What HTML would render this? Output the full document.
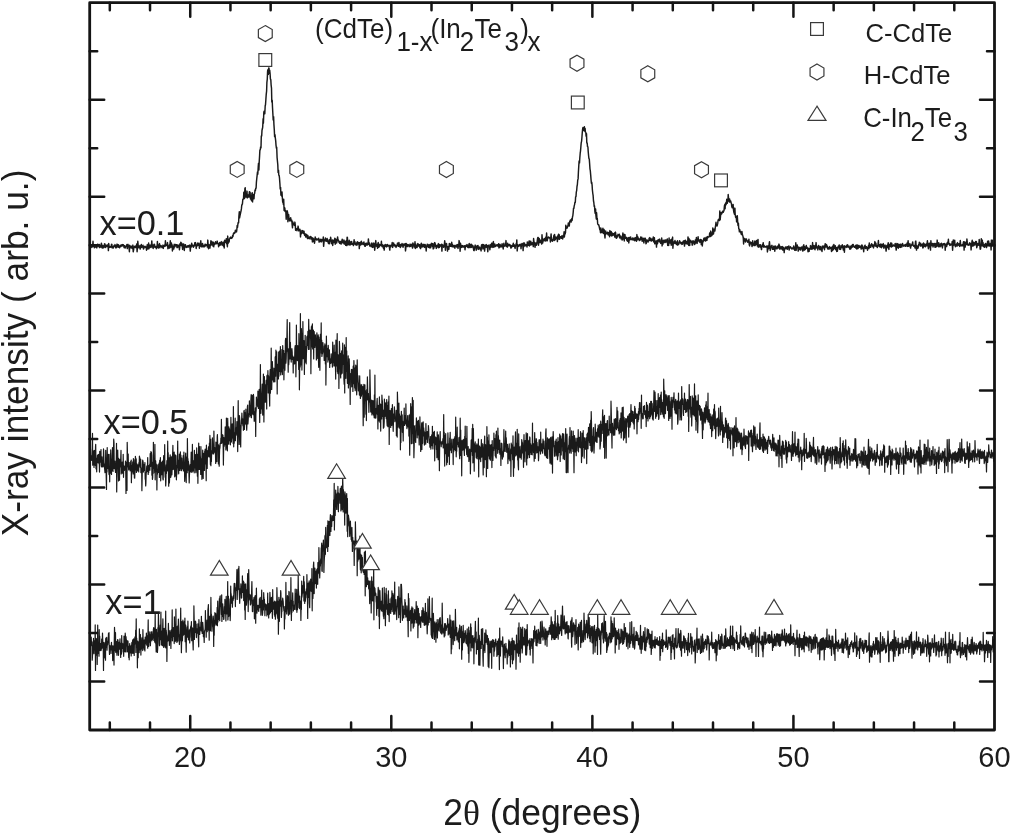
<!DOCTYPE html>
<html><head><meta charset="utf-8"><style>
html,body{margin:0;padding:0;background:#fff;width:1013px;height:835px;overflow:hidden}
body{position:relative;font-family:"Liberation Sans",sans-serif}
svg{will-change:transform}
</style></head><body>
<svg width="1013" height="835" viewBox="0 0 1013 835" style="position:absolute;left:0;top:0">
<rect width="100%" height="100%" fill="#fff"/>
<path d="M90.2,246.9 90.5,245.2 90.9,245.9 91.2,246.9 91.6,245.4 91.9,247.4 92.3,245.3 92.6,246.3 93.0,241.3 93.3,246.0 93.7,246.4 94.0,246.3 94.4,247.7 94.7,246.8 95.1,245.5 95.4,246.4 95.8,246.0 96.1,247.2 96.5,246.0 96.8,247.9 97.2,246.1 97.5,244.2 97.9,246.0 98.2,244.4 98.6,246.0 98.9,246.8 99.3,244.4 99.6,247.6 100.0,245.3 100.3,245.7 100.7,247.1 101.0,246.4 101.4,243.2 101.7,244.8 102.1,247.9 102.4,248.1 102.8,245.4 103.1,245.7 103.5,247.8 103.8,245.7 104.2,247.2 104.5,243.8 104.9,244.0 105.2,245.1 105.6,247.5 105.9,246.2 106.3,245.2 106.6,245.6 107.0,246.5 107.3,246.3 107.7,245.4 108.0,244.4 108.4,250.6 108.7,243.5 109.1,246.2 109.4,247.4 109.8,247.0 110.1,246.5 110.5,246.9 110.8,247.2 111.2,246.8 111.5,244.3 111.9,244.5 112.2,247.9 112.6,246.7 112.9,246.8 113.3,248.0 113.6,247.3 114.0,245.6 114.3,246.2 114.7,246.2 115.0,244.6 115.4,246.1 115.7,247.8 116.1,245.4 116.4,247.8 116.8,247.0 117.1,244.1 117.5,245.1 117.8,245.1 118.2,247.2 118.5,244.8 118.9,246.2 119.2,246.5 119.6,247.8 119.9,246.7 120.3,245.6 120.6,245.2 121.0,246.6 121.3,244.9 121.7,245.1 122.0,245.8 122.4,244.6 122.7,245.9 123.1,245.5 123.4,244.7 123.8,245.7 124.1,247.6 124.5,245.7 124.8,246.0 125.2,248.1 125.5,246.8 125.9,246.6 126.2,246.3 126.6,245.2 126.9,244.6 127.3,248.6 127.6,245.1 128.0,244.3 128.3,246.0 128.7,246.6 129.0,247.5 129.4,251.8 129.7,245.3 130.1,245.9 130.4,246.7 130.8,247.8 131.1,247.6 131.5,246.2 131.8,247.5 132.2,248.5 132.5,246.6 132.9,245.1 133.2,251.7 133.6,250.1 133.9,247.0 134.3,247.2 134.6,246.5 135.0,246.2 135.3,247.6 135.7,247.6 136.0,245.8 136.4,247.0 136.7,244.0 137.1,251.7 137.4,247.6 137.8,241.2 138.1,244.5 138.5,247.6 138.8,247.7 139.2,246.5 139.5,247.0 139.9,245.6 140.2,249.1 140.6,246.7 140.9,247.2 141.3,244.4 141.6,247.4 142.0,247.0 142.3,247.1 142.7,246.0 143.0,245.2 143.4,249.0 143.7,248.9 144.1,247.6 144.4,246.4 144.8,246.5 145.1,246.3 145.5,247.2 145.8,247.5 146.2,246.9 146.5,250.2 146.9,248.3 147.2,244.7 147.6,246.7 147.9,249.0 148.3,246.4 148.6,243.0 149.0,248.7 149.3,247.1 149.7,245.8 150.0,245.0 150.4,246.6 150.7,247.4 151.1,247.4 151.4,246.3 151.8,240.9 152.1,245.6 152.5,244.8 152.8,247.5 153.2,248.5 153.5,246.2 153.9,244.7 154.2,244.2 154.6,244.7 154.9,247.3 155.3,246.7 155.6,247.3 156.0,246.5 156.3,248.7 156.7,246.5 157.0,247.5 157.4,241.5 157.7,246.6 158.1,247.8 158.4,248.1 158.8,244.7 159.1,245.6 159.5,243.6 159.8,247.8 160.2,245.2 160.5,246.7 160.9,246.1 161.2,245.8 161.6,246.2 161.9,247.6 162.3,247.1 162.6,247.4 163.0,245.1 163.3,248.4 163.7,245.9 164.0,245.7 164.4,245.3 164.7,246.3 165.1,246.2 165.4,240.8 165.8,245.5 166.1,244.7 166.5,245.4 166.8,245.6 167.2,244.9 167.5,242.6 167.9,248.7 168.2,246.0 168.6,247.1 168.9,247.9 169.3,244.9 169.6,248.1 170.0,244.6 170.3,240.7 170.7,246.5 171.0,247.2 171.4,242.9 171.7,244.9 172.1,244.8 172.4,251.0 172.8,248.1 173.1,246.3 173.5,246.0 173.8,249.0 174.2,244.3 174.5,244.9 174.9,246.9 175.2,245.9 175.6,244.5 175.9,244.6 176.3,245.6 176.6,244.8 177.0,247.6 177.3,245.0 177.7,247.5 178.0,245.4 178.4,246.1 178.7,245.3 179.1,245.0 179.4,249.8 179.8,246.9 180.1,243.6 180.5,243.9 180.8,242.3 181.2,245.5 181.5,242.9 181.9,245.8 182.2,245.5 182.6,249.4 182.9,244.1 183.3,244.7 183.6,243.9 184.0,246.0 184.3,250.5 184.7,245.1 185.0,245.3 185.4,244.7 185.7,246.9 186.1,247.4 186.4,246.9 186.8,246.2 187.1,247.3 187.5,246.3 187.8,245.9 188.2,245.6 188.5,247.0 188.9,245.7 189.2,246.4 189.6,245.1 189.9,246.8 190.3,251.1 190.6,246.3 191.0,245.0 191.3,247.0 191.7,243.2 192.0,245.6 192.4,246.0 192.7,245.3 193.1,245.4 193.4,247.3 193.8,246.2 194.1,245.1 194.5,245.8 194.8,242.8 195.2,244.5 195.5,242.6 195.9,245.4 196.2,248.5 196.6,245.3 196.9,245.4 197.3,245.7 197.6,243.1 198.0,245.2 198.3,244.2 198.7,244.4 199.0,243.1 199.4,248.2 199.7,245.2 200.1,246.3 200.4,246.3 200.8,240.8 201.1,244.7 201.5,245.2 201.8,246.9 202.2,246.3 202.5,243.4 202.9,244.7 203.2,246.9 203.6,246.1 203.9,245.8 204.3,246.3 204.6,246.7 205.0,244.3 205.3,246.0 205.7,244.4 206.0,244.8 206.4,245.2 206.7,245.6 207.1,244.6 207.4,247.1 207.8,240.1 208.1,244.4 208.5,248.8 208.8,245.5 209.2,244.8 209.5,246.5 209.9,248.1 210.2,245.4 210.6,243.8 210.9,240.8 211.3,245.0 211.6,243.2 212.0,241.6 212.3,244.7 212.7,243.9 213.0,246.1 213.4,242.2 213.7,246.8 214.1,243.2 214.4,244.3 214.8,244.5 215.1,243.8 215.5,241.8 215.8,243.2 216.2,243.6 216.5,243.7 216.9,242.7 217.2,241.1 217.6,243.5 217.9,243.4 218.3,243.7 218.6,246.7 219.0,244.0 219.3,243.3 219.7,242.5 220.0,245.4 220.4,244.3 220.7,242.5 221.1,244.1 221.4,241.6 221.8,243.1 222.1,245.2 222.5,243.5 222.8,243.6 223.2,242.1 223.5,246.2 223.9,243.7 224.2,248.0 224.6,240.2 224.9,240.8 225.3,242.6 225.6,241.1 226.0,240.4 226.3,238.7 226.7,243.8 227.0,243.5 227.4,246.7 227.7,236.1 228.1,243.5 228.4,239.3 228.8,239.9 229.1,242.0 229.5,238.8 229.8,238.4 230.2,237.6 230.5,238.2 230.9,237.1 231.2,238.3 231.6,238.4 231.9,238.0 232.3,237.5 232.6,235.5 233.0,236.5 233.3,234.0 233.7,233.1 234.0,233.7 234.4,232.5 234.7,233.2 235.1,232.5 235.4,230.2 235.8,231.7 236.1,230.4 236.5,231.9 236.8,230.0 237.2,225.4 237.5,227.3 237.9,224.2 238.2,222.5 238.6,222.8 238.9,216.3 239.3,211.8 239.6,217.9 240.0,215.6 240.3,214.4 240.7,212.3 241.0,211.1 241.4,208.9 241.7,205.8 242.1,204.3 242.4,204.3 242.8,199.4 243.1,199.1 243.5,199.0 243.8,192.3 244.2,197.8 244.5,198.5 244.9,188.5 245.2,187.7 245.6,197.0 245.9,195.1 246.3,194.3 246.6,197.0 247.0,191.1 247.3,197.9 247.7,196.1 248.0,195.2 248.4,197.1 248.7,196.4 249.1,194.5 249.4,191.7 249.8,197.1 250.1,192.3 250.5,199.0 250.8,195.6 251.2,198.6 251.5,200.7 251.9,193.3 252.2,192.7 252.6,201.9 252.9,196.6 253.3,194.8 253.6,194.4 254.0,198.7 254.3,194.1 254.7,193.3 255.0,190.1 255.4,190.7 255.7,188.3 256.1,188.3 256.4,182.2 256.8,178.2 257.1,175.6 257.5,171.9 257.8,174.3 258.2,167.4 258.5,163.3 258.9,170.0 259.2,162.1 259.6,155.6 259.9,149.9 260.3,149.8 260.6,146.9 261.0,147.8 261.3,136.0 261.7,135.9 262.0,130.3 262.4,128.8 262.7,127.1 263.1,118.8 263.4,123.1 263.8,112.6 264.1,111.2 264.5,112.2 264.8,113.7 265.2,105.8 265.5,104.7 265.9,99.1 266.2,94.7 266.6,91.1 266.9,82.3 267.3,78.8 267.6,71.0 268.0,69.6 268.3,74.4 268.7,67.9 269.0,68.1 269.4,73.2 269.7,70.1 270.1,73.8 270.4,79.0 270.8,79.6 271.1,84.8 271.5,88.1 271.8,101.9 272.2,100.3 272.5,107.3 272.9,114.4 273.2,120.0 273.6,116.6 273.9,124.1 274.3,129.9 274.6,136.6 275.0,134.6 275.3,137.7 275.7,140.8 276.0,145.1 276.4,148.2 276.7,147.2 277.1,157.6 277.4,160.8 277.8,164.8 278.1,172.5 278.5,170.1 278.8,175.2 279.2,175.6 279.5,178.2 279.9,183.5 280.2,188.9 280.6,187.4 280.9,195.1 281.3,192.8 281.6,196.0 282.0,191.9 282.3,197.3 282.7,202.2 283.0,201.3 283.4,204.5 283.7,199.3 284.1,210.5 284.4,210.2 284.8,207.9 285.1,211.5 285.5,211.4 285.8,210.9 286.2,219.2 286.5,212.5 286.9,214.4 287.2,210.8 287.6,212.5 287.9,221.7 288.3,218.4 288.6,214.4 289.0,218.2 289.3,218.4 289.7,220.9 290.0,219.1 290.4,220.0 290.7,217.8 291.1,220.9 291.4,220.1 291.8,220.2 292.1,224.3 292.5,227.8 292.8,221.9 293.2,223.8 293.5,224.8 293.9,223.6 294.2,224.7 294.6,225.4 294.9,222.1 295.3,225.1 295.6,230.3 296.0,229.9 296.3,230.0 296.7,228.8 297.0,230.7 297.4,228.2 297.7,228.6 298.1,226.1 298.4,228.0 298.8,230.9 299.1,230.1 299.5,229.8 299.8,229.2 300.2,230.3 300.5,236.9 300.9,232.3 301.2,234.1 301.6,233.0 301.9,230.6 302.3,232.3 302.6,230.6 303.0,233.1 303.3,233.3 303.7,233.3 304.0,231.1 304.4,234.8 304.7,235.4 305.1,234.1 305.4,233.9 305.8,237.1 306.1,234.2 306.5,236.9 306.8,234.7 307.2,236.4 307.5,238.6 307.9,235.5 308.2,237.7 308.6,238.2 308.9,237.6 309.3,238.8 309.6,237.3 310.0,236.7 310.3,236.6 310.7,236.5 311.0,239.1 311.4,237.3 311.7,238.6 312.1,237.7 312.4,241.9 312.8,240.5 313.1,238.3 313.5,241.5 313.8,239.0 314.2,239.5 314.5,243.2 314.9,240.7 315.2,236.9 315.6,239.3 315.9,238.4 316.3,239.3 316.6,240.0 317.0,239.5 317.3,239.8 317.7,239.8 318.0,238.8 318.4,239.3 318.7,238.2 319.1,242.1 319.4,240.2 319.8,241.6 320.1,239.8 320.5,241.5 320.8,239.2 321.2,239.5 321.5,241.8 321.9,239.7 322.2,240.8 322.6,240.1 322.9,240.3 323.3,237.0 323.6,246.3 324.0,242.5 324.3,239.9 324.7,240.6 325.0,240.6 325.4,237.9 325.7,240.9 326.1,239.9 326.4,241.3 326.8,239.4 327.1,238.5 327.5,240.3 327.8,241.8 328.2,242.1 328.5,243.5 328.9,241.4 329.2,239.7 329.6,243.7 329.9,240.9 330.3,241.1 330.6,237.2 331.0,239.2 331.3,240.3 331.7,243.7 332.0,243.1 332.4,240.0 332.7,245.5 333.1,241.7 333.4,240.3 333.8,241.7 334.1,242.4 334.5,241.9 334.8,238.3 335.2,244.2 335.5,241.3 335.9,239.1 336.2,242.1 336.6,243.0 336.9,241.6 337.3,240.4 337.6,236.9 338.0,240.6 338.3,239.9 338.7,240.7 339.0,242.5 339.4,242.0 339.7,243.4 340.1,241.4 340.4,243.4 340.8,243.1 341.1,244.1 341.5,240.9 341.8,242.7 342.2,239.2 342.5,242.0 342.9,242.1 343.2,243.1 343.6,242.9 343.9,239.9 344.3,244.1 344.6,240.9 345.0,243.1 345.3,241.8 345.7,245.3 346.0,243.8 346.4,240.6 346.7,245.6 347.1,237.3 347.4,237.4 347.8,244.7 348.1,244.4 348.5,244.0 348.8,244.7 349.2,240.2 349.5,243.2 349.9,245.1 350.2,241.6 350.6,242.6 350.9,244.5 351.3,243.3 351.6,241.5 352.0,243.1 352.3,244.2 352.7,243.7 353.0,243.5 353.4,245.6 353.7,243.1 354.1,239.8 354.4,243.7 354.8,241.4 355.1,244.3 355.5,244.8 355.8,244.1 356.2,243.1 356.5,244.0 356.9,245.3 357.2,242.1 357.6,241.7 357.9,244.0 358.3,242.6 358.6,243.1 359.0,242.8 359.3,248.6 359.7,242.7 360.0,244.2 360.4,242.2 360.7,245.0 361.1,244.6 361.4,241.3 361.8,243.9 362.1,243.2 362.5,244.1 362.8,242.9 363.2,244.5 363.5,243.1 363.9,241.9 364.2,244.0 364.6,245.3 364.9,246.3 365.3,246.2 365.6,243.4 366.0,245.1 366.3,243.2 366.7,245.0 367.0,243.3 367.4,244.4 367.7,244.9 368.1,243.4 368.4,238.9 368.8,244.3 369.1,243.0 369.5,243.0 369.8,246.1 370.2,245.4 370.5,245.5 370.9,245.2 371.2,246.7 371.6,243.2 371.9,242.9 372.3,244.2 372.6,247.4 373.0,245.3 373.3,247.0 373.7,243.1 374.0,243.4 374.4,245.1 374.7,250.3 375.1,246.2 375.4,243.9 375.8,240.6 376.1,246.1 376.5,245.3 376.8,246.2 377.2,244.2 377.5,248.3 377.9,246.8 378.2,242.5 378.6,244.2 378.9,247.2 379.3,246.5 379.6,244.5 380.0,245.3 380.3,245.6 380.7,244.5 381.0,245.5 381.4,241.2 381.7,245.0 382.1,246.5 382.4,244.8 382.8,246.9 383.1,247.0 383.5,248.3 383.8,245.2 384.2,250.1 384.5,247.3 384.9,245.8 385.2,244.4 385.6,246.3 385.9,245.7 386.3,244.9 386.6,246.9 387.0,246.2 387.3,244.5 387.7,246.1 388.0,246.1 388.4,245.8 388.7,245.2 389.1,245.9 389.4,247.3 389.8,250.1 390.1,245.2 390.5,247.0 390.8,246.7 391.2,245.5 391.5,245.2 391.9,244.9 392.2,242.5 392.6,247.4 392.9,246.6 393.3,244.2 393.6,243.0 394.0,244.6 394.3,245.1 394.7,245.9 395.0,244.8 395.4,246.6 395.7,246.1 396.1,247.4 396.4,245.6 396.8,245.9 397.1,245.3 397.5,243.1 397.8,244.1 398.2,246.1 398.5,246.3 398.9,242.4 399.2,245.3 399.6,244.3 399.9,246.6 400.3,247.5 400.6,244.4 401.0,246.5 401.3,245.0 401.7,245.3 402.0,243.5 402.4,244.2 402.7,246.1 403.1,247.2 403.4,245.1 403.8,244.1 404.1,244.3 404.5,245.3 404.8,244.7 405.2,243.6 405.5,250.9 405.9,247.5 406.2,243.4 406.6,246.3 406.9,246.1 407.3,246.6 407.6,244.5 408.0,244.5 408.3,245.3 408.7,245.1 409.0,246.5 409.4,246.7 409.7,245.4 410.1,244.1 410.4,246.4 410.8,244.7 411.1,245.8 411.5,246.0 411.8,244.3 412.2,246.5 412.5,248.1 412.9,242.9 413.2,244.3 413.6,244.8 413.9,244.5 414.3,247.1 414.6,247.1 415.0,241.8 415.3,248.5 415.7,243.9 416.0,245.5 416.4,247.5 416.7,245.8 417.1,247.5 417.4,245.6 417.8,243.6 418.1,245.2 418.5,244.2 418.8,246.2 419.2,246.1 419.5,244.7 419.9,247.7 420.2,245.6 420.6,248.6 420.9,244.8 421.3,243.3 421.6,245.9 422.0,247.1 422.3,246.7 422.7,245.8 423.0,244.2 423.4,246.4 423.7,244.8 424.1,244.5 424.4,247.4 424.8,247.2 425.1,244.4 425.5,245.8 425.8,246.1 426.2,251.0 426.5,246.2 426.9,246.3 427.2,244.3 427.6,245.1 427.9,244.4 428.3,247.3 428.6,247.1 429.0,244.9 429.3,247.8 429.7,247.7 430.0,244.5 430.4,246.4 430.7,247.7 431.1,244.7 431.4,243.3 431.8,243.9 432.1,245.5 432.5,246.6 432.8,243.6 433.2,248.9 433.5,244.2 433.9,248.1 434.2,245.1 434.6,242.6 434.9,242.8 435.3,244.2 435.6,246.6 436.0,245.3 436.3,248.4 436.7,245.8 437.0,245.7 437.4,246.3 437.7,244.9 438.1,247.5 438.4,243.6 438.8,247.7 439.1,244.7 439.5,247.3 439.8,244.5 440.2,246.3 440.5,245.9 440.9,244.9 441.2,245.4 441.6,244.2 441.9,251.1 442.3,244.6 442.6,245.1 443.0,246.4 443.3,245.9 443.7,247.2 444.0,244.9 444.4,244.3 444.7,240.8 445.1,243.8 445.4,250.2 445.8,245.1 446.1,243.8 446.5,243.5 446.8,245.9 447.2,247.7 447.5,251.1 447.9,246.4 448.2,248.4 448.6,248.1 448.9,249.2 449.3,243.5 449.6,245.0 450.0,245.1 450.3,246.3 450.7,243.9 451.0,245.4 451.4,246.5 451.7,242.3 452.1,244.7 452.4,244.6 452.8,246.9 453.1,245.8 453.5,245.5 453.8,245.5 454.2,247.3 454.5,245.4 454.9,248.2 455.2,246.2 455.6,246.2 455.9,245.4 456.3,245.0 456.6,247.0 457.0,245.0 457.3,245.7 457.7,244.6 458.0,248.4 458.4,245.9 458.7,246.5 459.1,240.6 459.4,242.6 459.8,245.0 460.1,251.3 460.5,243.2 460.8,247.2 461.2,245.1 461.5,247.1 461.9,247.4 462.2,245.7 462.6,245.6 462.9,246.1 463.3,247.0 463.6,246.5 464.0,246.0 464.3,246.9 464.7,245.7 465.0,249.8 465.4,246.2 465.7,246.5 466.1,245.2 466.4,246.2 466.8,246.6 467.1,244.6 467.5,245.9 467.8,247.4 468.2,245.2 468.5,247.3 468.9,247.7 469.2,243.5 469.6,246.3 469.9,244.3 470.3,247.5 470.6,244.8 471.0,246.6 471.3,244.3 471.7,247.4 472.0,246.4 472.4,245.2 472.7,247.1 473.1,246.0 473.4,248.7 473.8,250.5 474.1,250.7 474.5,248.4 474.8,246.6 475.2,245.1 475.5,245.6 475.9,246.1 476.2,250.2 476.6,248.8 476.9,247.6 477.3,245.7 477.6,247.5 478.0,245.5 478.3,249.4 478.7,247.8 479.0,247.3 479.4,247.2 479.7,247.1 480.1,249.5 480.4,248.1 480.8,248.5 481.1,250.9 481.5,245.0 481.8,246.8 482.2,244.5 482.5,244.5 482.9,249.0 483.2,247.8 483.6,244.6 483.9,246.7 484.3,245.3 484.6,251.1 485.0,247.3 485.3,247.3 485.7,244.9 486.0,246.6 486.4,244.6 486.7,247.3 487.1,245.4 487.4,247.7 487.8,251.7 488.1,247.1 488.5,245.3 488.8,246.4 489.2,246.9 489.5,246.3 489.9,249.8 490.2,244.6 490.6,247.5 490.9,247.0 491.3,246.2 491.6,243.2 492.0,243.9 492.3,247.4 492.7,246.0 493.0,243.0 493.4,241.6 493.7,247.3 494.1,246.7 494.4,246.7 494.8,243.9 495.1,245.5 495.5,246.6 495.8,245.5 496.2,245.3 496.5,245.7 496.9,244.6 497.2,244.6 497.6,245.9 497.9,245.1 498.3,246.4 498.6,243.8 499.0,247.9 499.3,247.2 499.7,245.0 500.0,244.3 500.4,246.9 500.7,245.3 501.1,245.8 501.4,245.5 501.8,246.9 502.1,243.8 502.5,245.8 502.8,245.3 503.2,249.0 503.5,245.6 503.9,243.2 504.2,246.1 504.6,245.5 504.9,246.3 505.3,245.4 505.6,244.9 506.0,240.6 506.3,245.2 506.7,246.4 507.0,244.8 507.4,247.1 507.7,243.3 508.1,246.0 508.4,245.2 508.8,245.4 509.1,244.5 509.5,245.8 509.8,244.5 510.2,245.9 510.5,245.3 510.9,248.1 511.2,246.1 511.6,247.5 511.9,245.5 512.3,245.9 512.6,246.3 513.0,245.1 513.3,243.3 513.7,246.3 514.0,244.7 514.4,245.1 514.7,246.9 515.1,248.4 515.4,245.7 515.8,245.8 516.1,243.7 516.5,245.0 516.8,239.9 517.2,250.9 517.5,247.8 517.9,244.8 518.2,245.4 518.6,246.3 518.9,245.4 519.3,245.9 519.6,244.5 520.0,245.4 520.3,245.4 520.7,244.2 521.0,248.7 521.4,245.1 521.7,244.1 522.1,243.5 522.4,245.5 522.8,244.4 523.1,250.6 523.5,243.0 523.8,246.7 524.2,243.4 524.5,243.0 524.9,245.8 525.2,245.8 525.6,245.7 525.9,244.8 526.3,245.5 526.6,244.4 527.0,247.0 527.3,241.9 527.7,245.2 528.0,244.7 528.4,245.3 528.7,243.5 529.1,240.9 529.4,246.0 529.8,241.3 530.1,245.2 530.5,243.4 530.8,241.3 531.2,244.8 531.5,243.4 531.9,244.6 532.2,242.8 532.6,244.5 532.9,243.1 533.3,246.6 533.6,238.5 534.0,242.4 534.3,244.3 534.7,242.4 535.0,247.3 535.4,244.1 535.7,244.8 536.1,243.1 536.4,245.3 536.8,244.1 537.1,242.0 537.5,238.9 537.8,237.7 538.2,237.4 538.5,245.2 538.9,240.4 539.2,238.4 539.6,240.9 539.9,242.6 540.3,240.2 540.6,240.4 541.0,242.4 541.3,240.4 541.7,244.1 542.0,234.8 542.4,240.4 542.7,243.0 543.1,239.3 543.4,239.6 543.8,240.8 544.1,239.5 544.5,238.4 544.8,240.0 545.2,241.1 545.5,238.6 545.9,236.9 546.2,240.7 546.6,233.0 546.9,238.8 547.3,240.7 547.6,238.3 548.0,237.7 548.3,236.9 548.7,237.5 549.0,237.9 549.4,237.5 549.7,238.3 550.1,238.1 550.4,242.0 550.8,237.2 551.1,233.9 551.5,240.4 551.8,239.5 552.2,241.1 552.5,241.2 552.9,240.3 553.2,238.9 553.6,237.3 553.9,235.3 554.3,240.5 554.6,234.5 555.0,238.2 555.3,239.8 555.7,238.1 556.0,236.9 556.4,237.5 556.7,238.4 557.1,238.1 557.4,241.6 557.8,235.7 558.1,236.8 558.5,234.2 558.8,239.1 559.2,234.6 559.5,239.3 559.9,237.5 560.2,236.7 560.6,236.7 560.9,236.7 561.3,238.3 561.6,235.9 562.0,236.5 562.3,238.0 562.7,239.0 563.0,235.6 563.4,237.0 563.7,235.8 564.1,231.8 564.4,237.0 564.8,233.0 565.1,234.0 565.5,232.6 565.8,225.3 566.2,228.4 566.5,228.3 566.9,227.3 567.2,228.0 567.6,225.9 567.9,226.5 568.3,223.0 568.6,225.0 569.0,224.1 569.3,226.0 569.7,221.2 570.0,221.4 570.4,220.0 570.7,221.6 571.1,222.1 571.4,219.9 571.8,218.6 572.1,220.5 572.5,216.8 572.8,216.0 573.2,212.4 573.5,208.5 573.9,208.3 574.2,205.9 574.6,204.6 574.9,202.3 575.3,202.4 575.6,197.0 576.0,196.5 576.3,192.1 576.7,190.3 577.0,186.5 577.4,184.3 577.7,180.2 578.1,178.9 578.4,172.3 578.8,165.5 579.1,161.1 579.5,162.9 579.8,158.0 580.2,153.2 580.5,151.1 580.9,146.4 581.2,142.9 581.6,141.1 581.9,137.8 582.3,132.2 582.6,129.2 583.0,127.4 583.3,130.5 583.7,129.0 584.0,130.5 584.4,126.8 584.7,131.1 585.1,128.4 585.4,132.2 585.8,132.4 586.1,136.1 586.5,133.7 586.8,142.9 587.2,143.0 587.5,146.6 587.9,146.8 588.2,151.4 588.6,155.7 588.9,158.4 589.3,159.1 589.6,163.4 590.0,169.1 590.3,170.6 590.7,175.1 591.0,179.1 591.4,183.2 591.7,182.1 592.1,185.1 592.4,190.0 592.8,193.5 593.1,195.3 593.5,201.0 593.8,202.2 594.2,206.4 594.5,205.8 594.9,211.7 595.2,213.4 595.6,209.0 595.9,215.2 596.3,219.0 596.6,212.8 597.0,219.4 597.3,218.5 597.7,224.0 598.0,224.5 598.4,224.8 598.7,224.7 599.1,226.2 599.4,227.7 599.8,229.7 600.1,229.2 600.5,232.7 600.8,228.0 601.2,230.0 601.5,232.4 601.9,232.4 602.2,230.3 602.6,229.8 602.9,228.3 603.3,233.5 603.6,231.0 604.0,229.5 604.3,230.7 604.7,235.3 605.0,238.0 605.4,231.3 605.7,231.0 606.1,233.9 606.4,233.8 606.8,233.4 607.1,233.3 607.5,232.2 607.8,234.2 608.2,234.9 608.5,233.8 608.9,232.5 609.2,234.9 609.6,236.7 609.9,230.6 610.3,231.7 610.6,234.6 611.0,235.3 611.3,231.6 611.7,236.0 612.0,235.5 612.4,233.1 612.7,235.5 613.1,235.0 613.4,233.8 613.8,234.7 614.1,235.1 614.5,233.0 614.8,237.1 615.2,234.4 615.5,232.1 615.9,235.4 616.2,238.1 616.6,238.3 616.9,236.6 617.3,235.6 617.6,236.9 618.0,234.3 618.3,234.8 618.7,235.6 619.0,235.1 619.4,234.2 619.7,237.9 620.1,236.1 620.4,237.1 620.8,236.1 621.1,238.9 621.5,237.5 621.8,237.8 622.2,240.0 622.5,236.5 622.9,233.0 623.2,239.0 623.6,238.8 623.9,234.5 624.3,240.9 624.6,234.5 625.0,234.7 625.3,238.3 625.7,238.1 626.0,238.3 626.4,237.3 626.7,239.7 627.1,240.7 627.4,238.1 627.8,241.3 628.1,241.2 628.5,237.6 628.8,242.9 629.2,238.2 629.5,237.5 629.9,239.9 630.2,238.5 630.6,236.9 630.9,238.6 631.3,239.5 631.6,238.8 632.0,239.7 632.3,239.7 632.7,238.0 633.0,239.8 633.4,239.9 633.7,238.6 634.1,238.1 634.4,240.5 634.8,240.7 635.1,240.3 635.5,237.6 635.8,238.7 636.2,238.8 636.5,241.2 636.9,234.6 637.2,238.0 637.6,239.8 637.9,236.9 638.3,239.2 638.6,239.2 639.0,238.8 639.3,240.6 639.7,240.4 640.0,239.1 640.4,239.8 640.7,237.0 641.1,238.1 641.4,239.2 641.8,237.2 642.1,241.3 642.5,239.7 642.8,238.9 643.2,238.3 643.5,240.3 643.9,242.9 644.2,238.5 644.6,238.3 644.9,240.5 645.3,238.2 645.6,240.0 646.0,243.8 646.3,243.1 646.7,240.3 647.0,239.8 647.4,240.4 647.7,241.3 648.1,242.1 648.4,241.0 648.8,240.8 649.1,238.3 649.5,240.2 649.8,237.6 650.2,240.5 650.5,239.8 650.9,238.5 651.2,240.9 651.6,240.9 651.9,240.1 652.3,239.1 652.6,240.0 653.0,240.4 653.3,236.9 653.7,241.9 654.0,240.4 654.4,237.8 654.7,243.8 655.1,241.8 655.4,243.5 655.8,241.1 656.1,241.2 656.5,247.1 656.8,240.7 657.2,242.2 657.5,243.7 657.9,240.0 658.2,240.1 658.6,240.4 658.9,239.5 659.3,241.9 659.6,239.1 660.0,241.7 660.3,241.0 660.7,243.4 661.0,241.7 661.4,240.4 661.7,238.0 662.1,245.9 662.4,240.2 662.8,244.5 663.1,241.0 663.5,240.3 663.8,242.8 664.2,240.3 664.5,242.2 664.9,240.6 665.2,240.4 665.6,239.9 665.9,242.5 666.3,240.2 666.6,241.3 667.0,240.1 667.3,239.0 667.7,245.4 668.0,244.1 668.4,240.7 668.7,245.5 669.1,238.0 669.4,242.2 669.8,240.9 670.1,243.0 670.5,243.2 670.8,239.8 671.2,245.3 671.5,239.3 671.9,241.1 672.2,244.6 672.6,237.1 672.9,248.2 673.3,242.9 673.6,242.6 674.0,243.6 674.3,241.4 674.7,241.9 675.0,240.5 675.4,243.4 675.7,242.4 676.1,242.0 676.4,244.5 676.8,242.3 677.1,244.3 677.5,240.8 677.8,245.2 678.2,243.2 678.5,244.2 678.9,244.1 679.2,242.6 679.6,240.8 679.9,241.7 680.3,242.0 680.6,243.0 681.0,243.8 681.3,243.1 681.7,242.4 682.0,244.4 682.4,243.8 682.7,243.9 683.1,241.4 683.4,241.1 683.8,241.0 684.1,240.6 684.5,246.1 684.8,242.1 685.2,241.4 685.5,240.2 685.9,242.7 686.2,243.9 686.6,242.3 686.9,241.5 687.3,243.0 687.6,244.1 688.0,236.9 688.3,242.0 688.7,245.4 689.0,238.5 689.4,240.9 689.7,245.5 690.1,240.2 690.4,242.0 690.8,240.4 691.1,241.8 691.5,242.5 691.8,241.9 692.2,245.1 692.5,245.1 692.9,240.8 693.2,242.3 693.6,241.1 693.9,241.8 694.3,243.8 694.6,244.5 695.0,243.8 695.3,240.0 695.7,243.1 696.0,242.3 696.4,237.5 696.7,240.7 697.1,243.4 697.4,240.4 697.8,241.6 698.1,236.8 698.5,240.9 698.8,240.6 699.2,239.9 699.5,240.2 699.9,242.4 700.2,241.3 700.6,239.5 700.9,239.9 701.3,244.6 701.6,239.9 702.0,240.9 702.3,246.0 702.7,241.8 703.0,242.1 703.4,240.8 703.7,238.9 704.1,238.1 704.4,240.6 704.8,238.0 705.1,238.3 705.5,241.0 705.8,239.4 706.2,237.3 706.5,237.5 706.9,240.4 707.2,237.0 707.6,238.1 707.9,236.6 708.3,237.1 708.6,236.9 709.0,236.9 709.3,236.5 709.7,232.9 710.0,234.7 710.4,236.5 710.7,231.1 711.1,232.6 711.4,235.9 711.8,235.7 712.1,233.6 712.5,234.5 712.8,227.9 713.2,230.4 713.5,234.0 713.9,230.9 714.2,229.3 714.6,229.8 714.9,231.0 715.3,227.4 715.6,225.6 716.0,222.3 716.3,225.5 716.7,225.6 717.0,225.9 717.4,224.7 717.7,223.4 718.1,220.0 718.4,219.5 718.8,220.2 719.1,218.9 719.5,220.6 719.8,210.9 720.2,219.7 720.5,216.2 720.9,213.3 721.2,212.5 721.6,214.1 721.9,213.1 722.3,212.9 722.6,211.3 723.0,211.2 723.3,212.3 723.7,211.1 724.0,210.6 724.4,206.2 724.7,204.7 725.1,208.8 725.4,203.5 725.8,202.7 726.1,204.7 726.5,201.8 726.8,199.2 727.2,203.3 727.5,201.3 727.9,201.3 728.2,194.5 728.6,198.6 728.9,199.7 729.3,202.0 729.6,198.9 730.0,201.9 730.3,201.5 730.7,201.0 731.0,202.6 731.4,203.4 731.7,206.0 732.1,207.7 732.4,207.7 732.8,207.9 733.1,204.4 733.5,210.0 733.8,212.1 734.2,213.2 734.5,214.2 734.9,208.1 735.2,214.5 735.6,217.1 735.9,217.7 736.3,216.5 736.6,221.9 737.0,220.8 737.3,215.8 737.7,222.3 738.0,225.4 738.4,223.1 738.7,228.4 739.1,229.3 739.4,231.8 739.8,229.6 740.1,231.0 740.5,231.8 740.8,232.6 741.2,234.0 741.5,234.6 741.9,231.4 742.2,233.6 742.6,235.2 742.9,235.9 743.3,238.4 743.6,244.0 744.0,238.2 744.3,239.4 744.7,239.3 745.0,238.9 745.4,242.0 745.7,241.9 746.1,239.1 746.4,238.9 746.8,240.0 747.1,240.7 747.5,241.2 747.8,242.2 748.2,241.2 748.5,241.8 748.9,239.3 749.2,244.4 749.6,245.9 749.9,243.9 750.3,242.0 750.6,243.7 751.0,243.2 751.3,242.5 751.7,243.6 752.0,246.5 752.4,244.8 752.7,240.8 753.1,243.8 753.4,245.1 753.8,243.5 754.1,245.6 754.5,244.8 754.8,241.1 755.2,245.5 755.5,241.9 755.9,244.4 756.2,241.0 756.6,240.6 756.9,242.8 757.3,246.0 757.6,245.5 758.0,239.4 758.3,247.2 758.7,245.4 759.0,246.2 759.4,246.6 759.7,244.8 760.1,247.1 760.4,244.7 760.8,245.1 761.1,247.4 761.5,249.6 761.8,247.1 762.2,246.9 762.5,245.3 762.9,243.9 763.2,242.7 763.6,246.2 763.9,247.2 764.3,245.6 764.6,246.8 765.0,246.4 765.3,247.0 765.7,247.1 766.0,246.4 766.4,247.1 766.7,246.2 767.1,245.9 767.4,251.9 767.8,249.2 768.1,245.9 768.5,248.7 768.8,248.5 769.2,243.6 769.5,241.7 769.9,246.9 770.2,250.5 770.6,247.4 770.9,246.2 771.3,247.6 771.6,246.3 772.0,245.3 772.3,249.2 772.7,247.6 773.0,247.7 773.4,249.2 773.7,246.2 774.1,247.6 774.4,246.3 774.8,251.3 775.1,248.3 775.5,246.1 775.8,246.4 776.2,248.5 776.5,248.2 776.9,248.9 777.2,248.4 777.6,246.2 777.9,247.4 778.3,248.0 778.6,245.5 779.0,244.1 779.3,246.2 779.7,249.1 780.0,246.3 780.4,248.3 780.7,247.9 781.1,248.9 781.4,246.8 781.8,247.6 782.1,249.1 782.5,246.6 782.8,250.1 783.2,247.2 783.5,247.9 783.9,248.6 784.2,252.6 784.6,248.3 784.9,248.5 785.3,247.3 785.6,247.0 786.0,248.8 786.3,248.7 786.7,247.0 787.0,246.8 787.4,249.2 787.7,246.7 788.1,247.0 788.4,247.1 788.8,245.9 789.1,250.0 789.5,248.2 789.8,247.7 790.2,247.0 790.5,246.7 790.9,248.0 791.2,248.2 791.6,248.9 791.9,248.0 792.3,248.2 792.6,248.1 793.0,249.1 793.3,248.9 793.7,245.9 794.0,248.1 794.4,247.3 794.7,250.3 795.1,248.8 795.4,248.8 795.8,242.7 796.1,250.4 796.5,247.6 796.8,247.1 797.2,244.9 797.5,246.6 797.9,247.7 798.2,251.1 798.6,247.2 798.9,248.9 799.3,249.7 799.6,247.9 800.0,247.3 800.3,248.1 800.7,250.0 801.0,248.4 801.4,248.8 801.7,247.0 802.1,248.4 802.4,248.5 802.8,251.1 803.1,245.9 803.5,248.4 803.8,244.7 804.2,250.3 804.5,246.5 804.9,248.1 805.2,249.5 805.6,248.9 805.9,247.3 806.3,245.5 806.6,248.2 807.0,247.1 807.3,247.7 807.7,248.8 808.0,251.8 808.4,248.2 808.7,248.5 809.1,251.3 809.4,249.0 809.8,248.6 810.1,249.1 810.5,245.6 810.8,247.1 811.2,249.2 811.5,246.3 811.9,248.9 812.2,249.0 812.6,242.6 812.9,248.8 813.3,247.3 813.6,248.3 814.0,245.6 814.3,246.8 814.7,248.9 815.0,249.7 815.4,245.2 815.7,246.5 816.1,242.6 816.4,248.1 816.8,246.9 817.1,247.1 817.5,246.8 817.8,249.9 818.2,246.1 818.5,245.5 818.9,246.0 819.2,246.6 819.6,249.2 819.9,249.7 820.3,248.9 820.6,246.4 821.0,248.3 821.3,250.1 821.7,249.4 822.0,251.5 822.4,246.1 822.7,246.4 823.1,247.8 823.4,247.0 823.8,246.0 824.1,247.7 824.5,249.7 824.8,246.9 825.2,243.7 825.5,245.3 825.9,247.1 826.2,244.4 826.6,244.9 826.9,245.5 827.3,247.3 827.6,248.9 828.0,247.1 828.3,247.9 828.7,247.9 829.0,249.3 829.4,247.7 829.7,246.6 830.1,247.9 830.4,248.0 830.8,248.6 831.1,247.7 831.5,251.5 831.8,249.1 832.2,246.7 832.5,250.6 832.9,248.3 833.2,245.3 833.6,249.5 833.9,244.5 834.3,247.8 834.6,246.6 835.0,248.3 835.3,245.8 835.7,249.7 836.0,247.5 836.4,247.7 836.7,251.5 837.1,247.7 837.4,251.3 837.8,247.0 838.1,247.8 838.5,246.0 838.8,246.5 839.2,245.0 839.5,249.2 839.9,248.2 840.2,247.8 840.6,249.4 840.9,245.7 841.3,247.0 841.6,247.7 842.0,246.9 842.3,244.8 842.7,246.8 843.0,248.2 843.4,250.1 843.7,248.1 844.1,245.8 844.4,252.2 844.8,246.1 845.1,246.9 845.5,247.0 845.8,246.3 846.2,247.1 846.5,245.8 846.9,247.4 847.2,244.8 847.6,246.0 847.9,245.1 848.3,246.6 848.6,247.2 849.0,247.4 849.3,247.0 849.7,249.0 850.0,246.0 850.4,246.6 850.7,249.0 851.1,248.2 851.4,246.8 851.8,245.5 852.1,247.3 852.5,244.7 852.8,244.5 853.2,244.4 853.5,246.0 853.9,246.9 854.2,247.0 854.6,247.3 854.9,247.1 855.3,245.6 855.6,245.9 856.0,248.3 856.3,244.9 856.7,249.0 857.0,248.8 857.4,248.8 857.7,244.9 858.1,248.5 858.4,245.7 858.8,246.0 859.1,245.6 859.5,247.3 859.8,247.4 860.2,246.3 860.5,247.5 860.9,246.5 861.2,249.1 861.6,245.2 861.9,244.9 862.3,245.7 862.6,248.6 863.0,248.1 863.3,247.9 863.7,251.7 864.0,247.3 864.4,246.0 864.7,245.8 865.1,245.2 865.4,248.4 865.8,248.6 866.1,247.4 866.5,246.7 866.8,247.6 867.2,247.5 867.5,250.2 867.9,247.3 868.2,248.6 868.6,245.2 868.9,248.6 869.3,242.9 869.6,247.5 870.0,244.6 870.3,247.1 870.7,247.2 871.0,245.8 871.4,245.8 871.7,243.7 872.1,244.5 872.4,245.7 872.8,246.7 873.1,245.1 873.5,247.9 873.8,245.2 874.2,244.9 874.5,244.6 874.9,241.6 875.2,246.1 875.6,244.9 875.9,243.1 876.3,246.3 876.6,245.4 877.0,246.6 877.3,247.6 877.7,246.1 878.0,244.6 878.4,240.5 878.7,245.4 879.1,246.3 879.4,244.7 879.8,245.0 880.1,247.1 880.5,246.9 880.8,243.9 881.2,244.8 881.5,247.7 881.9,244.5 882.2,246.2 882.6,246.5 882.9,246.1 883.3,243.6 883.6,246.8 884.0,248.2 884.3,246.9 884.7,246.1 885.0,244.9 885.4,246.2 885.7,247.3 886.1,251.1 886.4,248.3 886.8,245.5 887.1,247.4 887.5,247.5 887.8,244.9 888.2,242.8 888.5,248.1 888.9,249.4 889.2,244.4 889.6,246.5 889.9,246.3 890.3,246.0 890.6,242.9 891.0,243.8 891.3,247.1 891.7,243.1 892.0,245.7 892.4,246.0 892.7,246.5 893.1,245.4 893.4,245.0 893.8,245.1 894.1,245.5 894.5,245.5 894.8,246.3 895.2,243.4 895.5,244.7 895.9,247.3 896.2,250.1 896.6,245.6 896.9,243.4 897.3,247.4 897.6,244.8 898.0,243.8 898.3,248.2 898.7,244.6 899.0,247.3 899.4,246.2 899.7,244.5 900.1,244.3 900.4,247.4 900.8,244.2 901.1,245.8 901.5,245.9 901.8,247.0 902.2,245.3 902.5,243.4 902.9,244.4 903.2,245.7 903.6,245.9 903.9,246.2 904.3,245.2 904.6,245.5 905.0,244.9 905.3,244.5 905.7,246.3 906.0,244.5 906.4,244.7 906.7,244.8 907.1,243.1 907.4,246.4 907.8,244.2 908.1,240.8 908.5,246.2 908.8,245.6 909.2,244.5 909.5,245.7 909.9,243.6 910.2,246.7 910.6,248.1 910.9,245.2 911.3,245.9 911.6,245.3 912.0,244.2 912.3,243.8 912.7,241.9 913.0,245.4 913.4,245.2 913.7,246.3 914.1,246.4 914.4,245.5 914.8,247.1 915.1,248.1 915.5,241.5 915.8,241.1 916.2,246.5 916.5,250.1 916.9,245.8 917.2,246.9 917.6,247.3 917.9,248.2 918.3,247.0 918.6,244.5 919.0,244.9 919.3,242.3 919.7,243.5 920.0,243.8 920.4,246.1 920.7,243.3 921.1,246.1 921.4,245.5 921.8,245.6 922.1,244.9 922.5,244.1 922.8,247.9 923.2,247.8 923.5,243.0 923.9,244.5 924.2,245.8 924.6,246.3 924.9,244.1 925.3,246.8 925.6,244.9 926.0,246.0 926.3,244.1 926.7,245.7 927.0,244.0 927.4,240.8 927.7,244.5 928.1,246.5 928.4,248.7 928.8,247.3 929.1,243.2 929.5,245.8 929.8,246.4 930.2,243.1 930.5,250.1 930.9,240.8 931.2,245.9 931.6,243.3 931.9,245.4 932.3,243.9 932.6,243.6 933.0,247.0 933.3,243.6 933.7,245.8 934.0,245.0 934.4,243.4 934.7,244.8 935.1,247.3 935.4,244.6 935.8,243.5 936.1,246.9 936.5,245.2 936.8,246.5 937.2,240.1 937.5,245.8 937.9,242.6 938.2,242.9 938.6,246.7 938.9,242.9 939.3,245.9 939.6,244.4 940.0,246.8 940.3,244.7 940.7,243.7 941.0,246.0 941.4,243.2 941.7,243.5 942.1,244.8 942.4,247.9 942.8,244.6 943.1,244.4 943.5,243.7 943.8,244.7 944.2,243.5 944.5,243.8 944.9,243.9 945.2,250.3 945.6,244.6 945.9,245.2 946.3,243.9 946.6,246.6 947.0,244.8 947.3,242.5 947.7,244.2 948.0,243.4 948.4,239.2 948.7,243.9 949.1,243.5 949.4,243.4 949.8,245.4 950.1,245.3 950.5,244.1 950.8,245.1 951.2,244.6 951.5,244.8 951.9,244.4 952.2,241.6 952.6,250.2 952.9,245.2 953.3,240.0 953.6,245.2 954.0,244.4 954.3,245.0 954.7,240.2 955.0,244.2 955.4,246.7 955.7,246.2 956.1,245.6 956.4,245.3 956.8,243.8 957.1,246.1 957.5,242.6 957.8,244.8 958.2,245.0 958.5,245.2 958.9,243.8 959.2,244.2 959.6,246.4 959.9,244.9 960.3,240.5 960.6,244.1 961.0,245.7 961.3,245.6 961.7,245.7 962.0,244.8 962.4,244.6 962.7,245.7 963.1,245.8 963.4,242.0 963.8,241.7 964.1,250.1 964.5,241.9 964.8,244.0 965.2,247.1 965.5,242.6 965.9,245.0 966.2,241.9 966.6,244.4 966.9,239.0 967.3,242.4 967.6,244.4 968.0,245.3 968.3,244.7 968.7,244.6 969.0,245.2 969.4,243.3 969.7,242.7 970.1,244.8 970.4,243.7 970.8,244.7 971.1,249.9 971.5,243.4 971.8,242.4 972.2,240.3 972.5,246.1 972.9,244.3 973.2,242.1 973.6,245.7 973.9,242.4 974.3,244.5 974.6,243.7 975.0,245.0 975.3,242.7 975.7,241.4 976.0,242.7 976.4,241.6 976.7,247.7 977.1,246.4 977.4,244.8 977.8,243.4 978.1,245.1 978.5,244.9 978.8,245.2 979.2,239.5 979.5,244.8 979.9,246.1 980.2,249.2 980.6,249.0 980.9,244.8 981.3,238.8 981.6,243.1 982.0,245.7 982.3,240.1 982.7,245.7 983.0,242.5 983.4,246.5 983.7,244.3 984.1,246.2 984.4,247.2 984.8,246.9 985.1,244.6 985.5,243.4 985.8,243.8 986.2,245.2 986.5,247.6 986.9,244.8 987.2,244.7 987.6,241.3 987.9,244.7 988.3,243.4 988.6,240.9 989.0,243.4 989.3,245.7 989.7,245.2 990.0,244.1 990.4,244.9 990.7,243.2 991.1,249.9 991.4,240.1 991.8,243.3 992.1,246.0 992.5,240.3 992.8,243.8 993.2,244.0 993.5,245.3 993.9,244.9" fill="none" stroke="#1a1a1a" stroke-width="1.45" stroke-linejoin="round"/>
<path d="M90.2,460.3 90.5,448.9 90.7,457.1 91.0,456.1 91.2,455.7 91.5,458.5 91.7,460.5 92.0,460.4 92.2,453.9 92.5,433.4 92.7,465.2 93.0,464.3 93.2,458.8 93.5,457.0 93.7,450.9 94.0,467.5 94.2,450.9 94.5,450.5 94.7,460.6 95.0,462.4 95.2,465.3 95.5,446.8 95.7,444.3 96.0,468.8 96.2,460.5 96.5,459.7 96.7,471.8 97.0,458.2 97.2,459.8 97.5,455.0 97.7,457.3 98.0,462.7 98.2,461.6 98.5,454.3 98.7,459.7 99.0,463.6 99.2,459.7 99.5,472.1 99.7,451.4 100.0,457.7 100.2,462.2 100.5,460.9 100.7,455.9 101.0,449.6 101.2,465.2 101.5,466.8 101.7,461.9 102.0,456.9 102.2,466.1 102.5,461.0 102.7,467.0 103.0,462.7 103.2,466.8 103.5,448.9 103.7,451.1 104.0,461.5 104.2,465.3 104.5,466.5 104.7,469.5 105.0,472.6 105.2,463.9 105.5,469.1 105.7,450.3 106.0,461.6 106.2,476.3 106.5,489.4 106.7,460.5 107.0,472.0 107.2,447.6 107.5,464.5 107.7,468.3 108.0,459.1 108.2,459.2 108.5,454.3 108.7,469.1 109.0,474.3 109.2,474.6 109.5,467.1 109.7,481.8 110.0,454.3 110.2,467.9 110.5,473.1 110.7,449.9 111.0,463.7 111.2,459.9 111.5,474.5 111.7,459.1 112.0,470.5 112.2,455.9 112.5,447.6 112.7,462.9 113.0,471.4 113.2,462.0 113.5,457.7 113.7,439.1 114.0,442.9 114.2,468.5 114.5,463.4 114.7,468.7 115.0,461.2 115.2,469.1 115.5,472.5 115.7,465.1 116.0,468.7 116.2,469.4 116.5,443.3 116.7,491.9 117.0,470.4 117.2,460.7 117.5,466.5 117.7,450.0 118.0,465.5 118.2,466.9 118.5,481.0 118.7,458.4 119.0,472.4 119.2,476.9 119.5,480.2 119.7,459.7 120.0,465.2 120.2,467.0 120.5,463.3 120.7,459.8 121.0,450.4 121.2,473.9 121.5,467.3 121.7,472.6 122.0,464.3 122.2,462.0 122.5,469.3 122.7,473.3 123.0,470.5 123.2,454.3 123.5,477.3 123.7,469.7 124.0,466.4 124.2,467.3 124.5,470.3 124.7,468.1 125.0,465.6 125.2,468.8 125.5,461.1 125.7,467.4 126.0,493.5 126.2,465.4 126.5,465.2 126.7,462.2 127.0,490.4 127.2,442.3 127.5,454.9 127.7,466.7 128.0,461.6 128.2,454.1 128.4,466.0 128.7,469.9 128.9,463.0 129.2,462.6 129.4,468.3 129.7,469.2 129.9,467.2 130.2,470.9 130.4,470.1 130.7,461.4 130.9,463.4 131.2,460.0 131.4,482.7 131.7,469.6 131.9,465.7 132.2,472.0 132.4,472.0 132.7,462.3 132.9,461.6 133.2,473.9 133.4,458.5 133.7,461.5 133.9,459.6 134.2,469.6 134.4,477.8 134.7,478.2 134.9,472.5 135.2,464.1 135.4,456.3 135.7,459.2 135.9,469.8 136.2,458.9 136.4,472.4 136.7,463.8 136.9,463.8 137.2,466.2 137.4,470.9 137.7,468.5 137.9,465.4 138.2,464.8 138.4,465.0 138.7,471.9 138.9,462.6 139.2,466.0 139.4,456.2 139.7,457.9 139.9,457.9 140.2,467.3 140.4,459.5 140.7,459.3 140.9,472.6 141.2,471.2 141.4,468.1 141.7,471.3 141.9,490.7 142.2,475.4 142.4,464.4 142.7,460.1 142.9,460.9 143.2,462.6 143.4,472.1 143.7,464.4 143.9,468.7 144.2,470.5 144.4,465.3 144.7,469.5 144.9,462.6 145.2,479.3 145.4,476.9 145.7,486.0 145.9,483.0 146.2,472.5 146.4,472.6 146.7,466.9 146.9,465.9 147.2,471.4 147.4,469.7 147.7,457.5 147.9,467.5 148.2,474.4 148.4,468.8 148.7,472.5 148.9,465.5 149.2,470.3 149.4,470.1 149.7,464.2 149.9,470.2 150.2,453.6 150.4,462.4 150.7,466.3 150.9,451.5 151.2,465.4 151.4,452.2 151.7,455.5 151.9,475.2 152.2,462.2 152.4,479.3 152.7,477.4 152.9,467.1 153.2,473.4 153.4,442.3 153.7,468.5 153.9,467.9 154.2,467.3 154.4,463.7 154.7,472.8 154.9,444.4 155.2,479.8 155.4,467.0 155.7,460.9 155.9,471.6 156.2,463.9 156.4,470.3 156.7,469.6 156.9,490.0 157.2,464.9 157.4,474.3 157.7,470.9 157.9,469.8 158.2,470.8 158.4,472.5 158.7,464.2 158.9,466.8 159.2,462.8 159.4,477.5 159.7,460.3 159.9,470.4 160.2,467.1 160.4,457.7 160.7,480.8 160.9,474.6 161.2,462.7 161.4,471.3 161.7,474.7 161.9,474.3 162.2,462.0 162.4,461.0 162.7,469.0 162.9,478.9 163.2,480.0 163.4,463.1 163.7,455.5 163.9,471.0 164.2,468.6 164.4,470.1 164.7,444.7 164.9,469.6 165.2,477.3 165.4,466.9 165.7,485.9 165.9,482.1 166.2,464.8 166.4,473.6 166.7,465.4 166.9,460.5 167.2,471.0 167.4,469.4 167.7,441.2 167.9,469.1 168.2,452.7 168.4,469.6 168.7,486.2 168.9,469.0 169.2,457.9 169.4,483.0 169.7,476.3 169.9,459.7 170.2,454.9 170.4,477.5 170.7,469.4 170.9,477.1 171.2,464.6 171.4,456.8 171.7,471.0 171.9,474.8 172.2,467.2 172.4,457.2 172.7,452.3 172.9,445.4 173.2,469.6 173.4,469.0 173.7,464.2 173.9,467.6 174.2,452.1 174.4,457.3 174.7,476.8 174.9,472.8 175.2,454.8 175.4,469.9 175.7,475.8 175.9,455.6 176.2,470.5 176.4,479.8 176.7,471.9 176.9,474.3 177.2,465.3 177.4,467.3 177.7,441.0 177.9,466.6 178.2,463.3 178.4,468.4 178.7,473.8 178.9,460.0 179.2,464.5 179.4,454.0 179.7,470.5 179.9,468.3 180.2,462.7 180.4,451.9 180.7,468.1 180.9,455.2 181.2,470.6 181.4,470.7 181.7,458.1 181.9,467.1 182.2,463.5 182.4,468.9 182.7,467.1 182.9,464.4 183.2,455.5 183.4,470.9 183.7,467.1 183.9,452.2 184.2,466.2 184.4,462.3 184.7,481.3 184.9,475.6 185.2,466.8 185.4,459.2 185.7,453.0 185.9,466.6 186.2,482.6 186.4,463.0 186.7,470.7 186.9,456.9 187.2,472.7 187.4,438.5 187.7,465.2 187.9,458.5 188.2,470.1 188.4,461.2 188.7,464.0 188.9,471.7 189.2,483.0 189.4,476.7 189.7,469.0 189.9,466.3 190.2,464.7 190.4,472.0 190.7,468.8 190.9,466.0 191.2,452.2 191.4,463.4 191.7,472.0 191.9,472.4 192.2,464.6 192.4,444.4 192.7,465.9 192.9,471.2 193.2,467.6 193.4,463.4 193.7,462.1 193.9,460.3 194.2,472.8 194.4,450.4 194.7,460.1 194.9,467.8 195.2,455.6 195.4,454.5 195.7,470.3 195.9,472.6 196.2,468.2 196.4,467.1 196.7,447.9 196.9,464.9 197.2,466.4 197.4,476.2 197.7,454.3 197.9,483.3 198.2,461.2 198.4,461.2 198.7,443.2 198.9,469.3 199.2,459.6 199.4,446.6 199.7,469.3 199.9,461.9 200.2,467.9 200.4,456.8 200.7,474.4 200.9,446.5 201.2,468.2 201.4,465.6 201.7,459.1 201.9,479.3 202.2,460.2 202.4,463.5 202.7,450.2 202.9,468.1 203.2,478.4 203.4,458.2 203.7,453.4 203.9,464.4 204.2,460.0 204.4,470.4 204.7,451.3 204.9,451.5 205.2,449.1 205.4,464.0 205.7,462.2 205.9,462.0 206.2,480.7 206.4,445.2 206.7,454.3 206.9,458.9 207.2,468.4 207.4,456.1 207.7,450.6 207.9,456.7 208.2,453.6 208.4,448.2 208.7,446.7 208.9,453.2 209.2,456.9 209.4,443.0 209.7,449.1 209.9,435.4 210.2,451.1 210.4,464.6 210.7,439.3 210.9,465.7 211.2,454.6 211.4,461.6 211.7,450.5 211.9,452.5 212.2,451.3 212.4,437.9 212.7,447.5 212.9,453.8 213.2,447.3 213.4,446.4 213.7,453.8 213.9,431.0 214.2,449.3 214.4,448.6 214.7,447.6 214.9,452.3 215.2,448.2 215.4,450.4 215.7,463.4 215.9,442.1 216.2,446.8 216.4,452.2 216.7,457.2 216.9,461.6 217.2,437.1 217.4,434.5 217.7,445.9 217.9,445.4 218.2,446.0 218.4,464.0 218.7,444.8 218.9,447.5 219.2,466.2 219.4,457.0 219.7,446.0 219.9,448.2 220.2,443.2 220.4,443.1 220.7,443.3 220.9,438.1 221.2,440.1 221.4,419.4 221.7,443.3 221.9,441.0 222.2,434.5 222.4,441.2 222.7,442.1 222.9,435.0 223.2,448.0 223.4,465.1 223.7,444.3 223.9,437.7 224.2,446.3 224.4,438.3 224.7,440.1 224.9,444.6 225.2,426.9 225.4,441.6 225.7,440.8 225.9,449.9 226.2,447.7 226.4,418.1 226.7,445.0 226.9,433.2 227.2,437.2 227.4,450.8 227.7,418.3 227.9,426.5 228.2,430.8 228.4,441.8 228.7,444.2 228.9,426.9 229.2,438.9 229.4,428.7 229.7,440.6 229.9,429.9 230.2,439.0 230.4,444.8 230.7,431.1 230.9,417.4 231.2,441.7 231.4,442.0 231.7,434.3 231.9,437.5 232.2,423.8 232.4,437.8 232.7,435.9 232.9,437.7 233.2,443.4 233.4,406.6 233.7,446.8 233.9,432.6 234.2,443.2 234.4,435.3 234.7,437.1 234.9,436.1 235.2,418.2 235.4,440.7 235.7,430.1 235.9,434.9 236.2,428.7 236.4,427.9 236.7,427.4 236.9,421.5 237.2,435.6 237.4,433.4 237.7,451.6 237.9,431.4 238.2,400.7 238.4,426.0 238.7,429.8 238.9,427.2 239.2,444.5 239.4,415.5 239.7,418.8 239.9,428.1 240.2,425.3 240.4,439.2 240.7,446.9 240.9,430.9 241.2,424.3 241.4,420.6 241.7,418.4 241.9,413.0 242.2,421.2 242.4,423.8 242.7,418.9 242.9,425.8 243.2,420.0 243.4,430.3 243.7,423.6 243.9,411.0 244.2,410.4 244.4,429.5 244.7,415.3 244.9,412.7 245.2,418.6 245.4,414.7 245.7,424.1 245.9,409.0 246.2,419.7 246.4,424.1 246.7,430.1 246.9,425.4 247.2,421.0 247.4,406.8 247.7,405.1 247.9,423.9 248.2,419.6 248.4,415.6 248.7,413.7 248.9,414.0 249.2,413.1 249.4,400.9 249.7,412.7 249.9,416.9 250.2,407.9 250.4,415.4 250.7,406.7 250.9,399.3 251.2,394.5 251.4,417.7 251.7,408.0 251.9,406.6 252.2,395.4 252.4,396.2 252.7,414.1 252.9,399.4 253.2,414.7 253.4,394.4 253.7,397.0 253.9,410.6 254.2,421.3 254.4,420.0 254.7,412.4 254.9,411.6 255.2,419.1 255.4,407.9 255.7,436.4 255.9,413.6 256.2,410.0 256.4,397.1 256.7,404.3 256.9,399.2 257.2,404.8 257.4,400.8 257.7,406.7 257.9,391.1 258.2,399.7 258.4,408.4 258.7,406.0 258.9,397.9 259.2,389.4 259.4,398.4 259.7,422.5 259.9,404.0 260.2,393.6 260.4,364.5 260.7,402.5 260.9,413.3 261.2,397.0 261.4,409.1 261.7,394.0 261.9,392.4 262.2,384.1 262.4,397.6 262.7,415.1 262.9,397.9 263.2,390.9 263.4,374.0 263.7,391.2 263.9,422.0 264.2,398.9 264.4,376.6 264.7,392.0 264.9,398.9 265.2,402.3 265.4,401.8 265.7,384.5 265.9,398.1 266.2,380.4 266.4,380.7 266.7,408.9 266.9,376.0 267.2,375.1 267.4,375.3 267.7,383.9 267.9,370.5 268.2,393.0 268.4,375.5 268.7,376.8 268.9,383.2 269.2,391.3 269.4,396.4 269.7,406.1 269.9,375.5 270.2,369.6 270.4,393.1 270.7,386.2 270.9,387.3 271.2,348.0 271.4,368.0 271.7,389.4 271.9,380.3 272.2,380.4 272.4,361.7 272.7,374.8 272.9,379.1 273.2,373.6 273.4,379.7 273.7,381.9 273.9,368.1 274.2,369.4 274.4,377.1 274.7,372.2 274.9,381.8 275.2,356.9 275.4,370.2 275.7,376.2 275.9,350.0 276.2,367.1 276.4,365.5 276.7,351.8 276.9,365.0 277.2,394.0 277.4,365.8 277.7,364.4 277.9,377.5 278.2,369.5 278.4,378.9 278.7,352.0 278.9,376.2 279.2,366.2 279.4,351.2 279.7,364.7 279.9,355.6 280.2,371.6 280.4,346.6 280.7,375.0 280.9,361.8 281.2,371.9 281.4,364.1 281.7,362.4 281.9,349.7 282.2,363.1 282.4,374.6 282.7,345.5 282.9,352.1 283.2,368.2 283.4,354.4 283.7,350.6 283.9,379.8 284.2,365.1 284.4,353.5 284.7,369.1 284.9,370.2 285.2,356.9 285.4,340.6 285.7,338.4 285.9,363.2 286.2,358.7 286.4,350.4 286.7,346.9 286.9,337.8 287.2,319.6 287.4,351.2 287.7,350.9 287.9,354.1 288.2,372.2 288.4,348.9 288.7,364.7 288.9,361.8 289.2,354.4 289.4,343.0 289.7,322.6 289.9,359.0 290.2,350.5 290.4,342.4 290.7,354.0 290.9,353.5 291.2,362.1 291.4,356.6 291.7,350.7 291.9,348.5 292.2,352.2 292.4,359.4 292.7,355.8 292.9,356.6 293.2,373.0 293.4,357.2 293.7,359.6 293.9,363.5 294.2,357.1 294.4,363.9 294.7,356.9 294.9,348.3 295.2,345.7 295.4,363.3 295.7,350.2 295.9,376.8 296.2,357.7 296.4,325.1 296.7,352.4 296.9,345.6 297.2,356.0 297.4,360.6 297.7,345.5 297.9,358.5 298.2,350.0 298.4,349.1 298.7,369.5 298.9,333.7 299.2,348.1 299.4,389.8 299.7,366.2 299.9,361.0 300.2,367.0 300.4,313.7 300.7,361.4 300.9,343.7 301.2,364.8 301.4,328.7 301.7,338.0 301.9,370.1 302.2,354.0 302.4,339.0 302.7,340.3 302.9,321.6 303.2,358.7 303.4,343.2 303.7,349.0 303.9,340.5 304.2,343.2 304.4,374.4 304.7,345.2 304.9,349.5 305.2,335.3 305.4,362.2 305.7,346.3 305.9,355.2 306.2,363.8 306.4,354.4 306.7,347.0 306.9,336.5 307.2,341.0 307.4,335.9 307.7,345.3 307.9,331.4 308.2,345.5 308.4,349.3 308.7,319.4 308.9,329.7 309.2,349.3 309.4,335.0 309.7,334.9 309.9,330.0 310.2,337.1 310.4,330.3 310.7,341.2 310.9,373.7 311.2,337.8 311.4,326.6 311.7,347.0 311.9,325.7 312.2,332.8 312.4,323.9 312.7,349.0 312.9,335.2 313.2,332.2 313.4,330.1 313.7,358.9 313.9,335.4 314.2,331.6 314.4,337.8 314.7,346.7 314.9,347.5 315.2,337.5 315.4,334.9 315.7,345.3 315.9,343.5 316.2,345.6 316.4,359.9 316.7,338.3 316.9,332.8 317.2,352.4 317.4,339.7 317.7,358.4 317.9,348.4 318.2,334.9 318.4,357.7 318.7,367.3 318.9,337.0 319.2,348.2 319.4,339.7 319.7,340.7 319.9,370.3 320.2,344.8 320.4,334.3 320.7,345.8 320.9,349.1 321.2,322.9 321.4,353.2 321.7,340.2 321.9,356.5 322.2,353.4 322.4,353.8 322.7,352.3 322.9,342.6 323.2,350.5 323.4,350.9 323.7,349.8 323.9,350.4 324.2,360.5 324.4,345.9 324.7,346.5 324.9,343.9 325.2,352.2 325.4,363.9 325.7,345.8 325.9,385.1 326.2,356.8 326.4,336.0 326.7,356.7 326.9,348.1 327.2,354.4 327.4,349.6 327.7,348.4 327.9,362.1 328.2,345.3 328.4,348.8 328.7,360.0 328.9,350.4 329.2,359.4 329.4,349.8 329.7,367.4 329.9,362.1 330.2,362.9 330.4,359.0 330.7,363.4 330.9,363.1 331.2,353.8 331.4,359.0 331.7,359.0 331.9,362.4 332.2,361.1 332.4,367.1 332.7,342.2 332.9,352.0 333.2,358.2 333.4,362.7 333.7,357.6 333.9,365.9 334.2,345.2 334.4,366.0 334.7,353.9 334.9,360.6 335.2,352.3 335.4,362.7 335.7,379.1 335.9,340.2 336.2,364.1 336.4,365.9 336.7,359.4 336.9,353.5 337.2,333.5 337.4,371.7 337.7,366.9 337.9,373.6 338.2,354.9 338.4,363.7 338.7,359.1 338.9,388.5 339.2,361.1 339.4,341.4 339.7,349.3 339.9,363.7 340.2,362.2 340.4,372.1 340.7,378.0 340.9,353.3 341.2,374.2 341.4,355.8 341.7,350.8 341.9,368.3 342.2,373.2 342.4,363.4 342.7,343.2 342.9,364.3 343.2,360.8 343.4,364.1 343.7,355.0 343.9,379.3 344.2,384.1 344.4,344.8 344.7,392.9 344.9,354.3 345.2,347.3 345.4,359.5 345.7,364.3 345.9,378.3 346.2,337.5 346.4,365.7 346.7,350.9 346.9,371.1 347.2,368.8 347.4,383.3 347.7,370.4 347.9,366.7 348.2,355.8 348.4,387.9 348.7,360.0 348.9,379.2 349.2,358.9 349.4,365.2 349.7,384.9 349.9,377.9 350.2,404.5 350.4,375.9 350.7,373.7 350.9,373.4 351.2,375.3 351.4,369.7 351.7,386.8 351.9,369.4 352.2,375.3 352.4,376.9 352.7,370.1 352.9,391.5 353.2,366.2 353.4,383.8 353.7,382.6 353.9,360.5 354.2,374.2 354.4,380.9 354.7,387.9 354.9,368.2 355.2,390.7 355.4,386.6 355.7,365.2 355.9,384.7 356.2,365.9 356.4,383.9 356.7,394.8 356.9,386.4 357.2,359.9 357.4,373.4 357.7,381.8 357.9,375.6 358.2,381.4 358.4,390.8 358.7,390.4 358.9,383.3 359.2,386.2 359.4,395.1 359.7,375.8 359.9,390.7 360.2,384.0 360.4,398.5 360.7,396.0 360.9,395.9 361.2,385.7 361.4,396.1 361.7,384.6 361.9,394.2 362.2,393.5 362.4,390.4 362.7,386.6 362.9,398.2 363.2,425.7 363.4,394.4 363.7,388.7 363.9,384.4 364.2,417.2 364.4,402.1 364.7,398.3 364.9,384.8 365.2,400.4 365.4,390.6 365.7,400.4 365.9,414.2 366.2,395.8 366.4,420.6 366.7,389.7 366.9,400.0 367.2,388.7 367.4,376.9 367.7,390.6 367.9,399.8 368.2,396.1 368.4,393.5 368.7,404.9 368.9,412.3 369.2,399.9 369.4,402.4 369.7,400.7 369.9,369.8 370.2,385.8 370.4,394.1 370.7,411.5 370.9,412.2 371.2,407.4 371.4,406.9 371.7,400.1 371.9,414.9 372.2,405.1 372.4,406.0 372.7,413.5 372.9,400.6 373.2,400.7 373.4,415.0 373.7,410.3 373.9,413.6 374.2,417.7 374.4,394.9 374.7,410.6 374.9,375.0 375.2,418.2 375.4,408.6 375.7,408.8 375.9,418.0 376.2,411.1 376.4,413.5 376.7,408.1 376.9,402.4 377.2,398.3 377.4,414.4 377.7,411.8 377.9,429.0 378.2,405.3 378.4,416.0 378.7,421.0 378.9,411.4 379.2,408.8 379.4,396.9 379.7,414.1 379.9,422.2 380.2,403.9 380.4,412.4 380.7,431.1 380.9,410.7 381.2,406.6 381.4,404.3 381.7,418.9 381.9,395.0 382.2,400.7 382.4,400.7 382.7,416.5 382.9,412.7 383.2,415.7 383.4,428.2 383.7,410.1 383.9,427.3 384.2,421.8 384.4,399.1 384.7,409.6 384.9,416.5 385.2,411.3 385.4,402.9 385.7,406.6 385.9,406.3 386.2,418.4 386.4,418.8 386.7,399.5 386.9,421.7 387.2,425.6 387.4,416.2 387.7,405.3 387.9,426.7 388.2,402.1 388.4,425.4 388.7,413.8 388.9,396.1 389.2,444.4 389.4,422.0 389.7,415.6 389.9,410.6 390.2,424.2 390.4,410.8 390.7,427.5 390.9,412.9 391.2,413.7 391.4,408.5 391.7,425.4 391.9,420.0 392.2,411.0 392.4,404.7 392.7,418.8 392.9,422.6 393.2,431.3 393.4,423.9 393.7,413.9 393.9,418.5 394.2,415.9 394.4,406.8 394.7,413.4 394.9,421.7 395.2,418.3 395.4,418.8 395.7,417.7 395.9,420.2 396.2,410.3 396.4,435.7 396.7,415.3 396.9,420.2 397.2,437.1 397.4,392.1 397.7,403.6 397.9,427.1 398.2,411.5 398.4,417.5 398.7,406.1 398.9,403.0 399.2,428.1 399.4,413.8 399.7,419.7 399.9,422.5 400.2,416.2 400.4,449.8 400.7,426.7 400.9,442.4 401.2,416.7 401.4,411.4 401.7,422.6 401.9,414.5 402.2,415.5 402.4,432.3 402.7,421.0 402.9,426.5 403.2,440.9 403.4,423.6 403.7,424.2 403.9,425.4 404.2,408.1 404.4,425.5 404.7,424.6 404.9,417.6 405.2,420.1 405.4,415.4 405.7,423.7 405.9,403.9 406.2,422.4 406.4,425.3 406.7,423.2 406.9,428.6 407.2,423.4 407.4,420.1 407.7,415.6 407.9,426.9 408.2,422.9 408.4,421.5 408.7,420.8 408.9,436.1 409.2,415.0 409.4,425.9 409.7,455.2 409.9,436.2 410.2,414.0 410.4,424.6 410.7,403.7 410.9,427.5 411.2,424.3 411.4,443.7 411.7,406.8 411.9,433.7 412.2,414.6 412.4,397.5 412.7,422.1 412.9,443.3 413.2,400.4 413.4,432.8 413.7,435.0 413.9,457.7 414.2,446.1 414.4,425.8 414.7,432.6 414.9,440.7 415.2,440.8 415.4,440.7 415.7,442.4 415.9,425.2 416.2,427.5 416.4,417.9 416.7,425.0 416.9,424.2 417.2,437.8 417.4,421.3 417.7,431.2 417.9,434.8 418.2,427.6 418.4,420.3 418.7,430.6 418.9,436.1 419.2,444.9 419.4,429.6 419.7,432.0 419.9,416.9 420.2,434.3 420.4,432.6 420.7,451.4 420.9,430.1 421.2,433.9 421.4,429.8 421.7,422.8 421.9,449.6 422.2,426.0 422.4,443.7 422.7,442.8 422.9,422.3 423.2,421.9 423.4,436.0 423.7,427.9 423.9,431.6 424.2,431.2 424.4,445.1 424.7,435.6 424.9,438.2 425.2,432.7 425.4,434.4 425.7,444.2 425.9,423.6 426.2,435.9 426.4,434.3 426.7,439.1 426.9,433.3 427.2,431.6 427.4,442.4 427.7,435.4 427.9,434.7 428.2,435.3 428.4,425.5 428.7,429.5 428.9,436.9 429.2,443.0 429.4,443.4 429.7,440.2 429.9,447.2 430.2,441.8 430.4,436.7 430.7,444.9 430.9,449.1 431.2,436.7 431.4,442.7 431.7,434.9 431.9,439.7 432.2,445.6 432.4,426.3 432.7,442.2 432.9,449.0 433.2,432.4 433.4,436.8 433.7,438.9 433.9,443.0 434.2,434.6 434.4,431.4 434.7,460.8 434.9,436.3 435.2,444.6 435.4,441.0 435.7,440.4 435.9,437.5 436.2,438.5 436.4,449.4 436.7,445.0 436.9,457.7 437.2,431.9 437.4,444.2 437.7,439.8 437.9,448.8 438.2,459.7 438.4,434.8 438.7,445.4 438.9,445.7 439.2,447.0 439.4,470.7 439.7,442.8 439.9,438.3 440.2,431.6 440.4,442.6 440.7,442.9 440.9,443.0 441.2,446.6 441.4,442.9 441.7,442.3 441.9,441.4 442.2,443.8 442.4,442.5 442.7,443.5 442.9,438.6 443.2,447.9 443.4,443.6 443.7,414.6 443.9,436.6 444.2,432.0 444.4,447.0 444.7,466.1 444.9,435.6 445.2,443.0 445.4,446.1 445.7,433.7 445.9,453.7 446.2,444.7 446.4,446.4 446.7,464.8 446.9,444.0 447.2,456.4 447.4,462.3 447.7,447.7 447.9,432.8 448.2,445.4 448.4,443.5 448.7,456.2 448.9,449.1 449.2,448.0 449.4,464.4 449.7,438.0 449.9,441.1 450.2,432.3 450.4,444.9 450.7,450.1 450.9,447.1 451.2,443.8 451.4,452.7 451.7,440.0 451.9,439.2 452.2,447.4 452.4,447.4 452.7,447.9 452.9,447.3 453.2,464.6 453.4,439.4 453.7,451.7 453.9,446.0 454.2,449.7 454.4,438.0 454.7,443.2 454.9,436.8 455.2,436.4 455.4,450.4 455.7,417.2 455.9,442.9 456.2,456.8 456.4,451.6 456.7,451.3 456.9,442.8 457.2,427.2 457.4,443.0 457.7,444.5 457.9,443.9 458.2,442.7 458.4,446.9 458.7,443.3 458.9,437.8 459.2,437.4 459.4,453.4 459.7,458.7 459.9,447.5 460.2,418.2 460.4,443.6 460.7,430.1 460.9,455.5 461.2,441.8 461.4,441.0 461.7,475.8 461.9,450.1 462.2,440.1 462.4,442.5 462.7,446.9 462.9,450.2 463.2,448.0 463.4,441.0 463.7,439.4 463.9,444.3 464.2,452.1 464.4,455.5 464.7,436.4 464.9,447.3 465.2,426.1 465.4,447.9 465.7,438.3 465.9,445.7 466.2,448.6 466.4,447.9 466.7,454.4 466.9,426.3 467.2,452.0 467.4,456.1 467.7,454.6 467.9,456.6 468.2,446.5 468.4,452.3 468.7,451.9 468.9,461.5 469.2,453.5 469.4,451.2 469.7,449.2 469.9,459.6 470.2,452.3 470.4,473.8 470.7,455.8 470.9,451.0 471.2,440.1 471.4,439.9 471.7,451.5 471.9,447.7 472.2,428.3 472.4,455.4 472.7,424.4 472.9,462.8 473.2,444.8 473.4,428.7 473.7,452.2 473.9,446.4 474.2,471.2 474.4,444.2 474.7,451.3 474.9,447.2 475.2,441.8 475.4,452.0 475.7,451.0 475.9,449.8 476.2,457.8 476.4,445.0 476.7,451.1 476.9,443.9 477.2,458.8 477.4,445.2 477.7,451.8 477.9,452.8 478.2,456.2 478.4,439.1 478.7,476.8 478.9,445.8 479.2,448.4 479.4,459.1 479.7,446.0 479.9,458.7 480.2,453.4 480.4,447.7 480.7,461.6 480.9,448.6 481.2,447.3 481.4,439.6 481.7,457.1 481.9,446.9 482.2,443.5 482.4,445.4 482.7,451.2 482.9,460.5 483.2,475.0 483.4,448.1 483.7,448.5 483.9,444.1 484.2,467.6 484.4,443.1 484.7,436.1 484.9,457.4 485.2,444.3 485.4,459.6 485.7,454.5 485.9,445.0 486.2,450.4 486.4,476.7 486.7,453.7 486.9,426.7 487.2,454.1 487.4,437.2 487.7,468.4 487.9,440.9 488.2,442.4 488.4,451.2 488.7,455.8 488.9,434.8 489.2,451.0 489.4,458.8 489.7,452.3 489.9,444.9 490.2,446.2 490.4,460.2 490.7,450.2 490.9,455.7 491.2,444.6 491.4,446.6 491.7,454.0 491.9,467.6 492.2,440.7 492.4,451.5 492.7,447.8 492.9,460.4 493.2,451.3 493.4,447.1 493.7,450.5 493.9,433.1 494.2,446.2 494.4,448.6 494.7,441.4 494.9,438.7 495.2,455.8 495.4,441.8 495.7,456.9 495.9,434.7 496.2,458.0 496.4,431.2 496.7,443.2 496.9,444.5 497.2,448.2 497.4,443.5 497.7,453.3 497.9,428.0 498.2,449.5 498.4,435.7 498.7,443.8 498.9,443.4 499.2,444.9 499.4,452.6 499.7,440.2 499.9,454.2 500.2,448.7 500.4,449.6 500.7,451.1 500.9,465.4 501.2,443.0 501.4,455.9 501.7,451.4 501.9,443.5 502.2,451.7 502.4,459.1 502.7,451.5 502.9,452.0 503.2,457.0 503.4,454.7 503.7,449.1 503.9,429.7 504.2,445.6 504.4,451.1 504.7,443.7 504.9,449.6 505.2,451.4 505.4,444.3 505.7,431.2 505.9,444.9 506.2,437.7 506.4,441.4 506.7,452.2 506.9,448.7 507.2,447.3 507.4,444.3 507.7,447.3 507.9,463.6 508.2,453.4 508.4,448.9 508.7,452.2 508.9,459.0 509.2,443.9 509.4,453.6 509.7,451.0 509.9,460.7 510.2,452.3 510.4,457.0 510.7,448.8 510.9,476.4 511.2,443.2 511.4,448.7 511.7,453.6 511.9,444.9 512.2,445.6 512.5,448.0 512.7,459.7 513.0,435.8 513.2,456.1 513.5,476.3 513.7,448.3 514.0,447.1 514.2,467.8 514.5,450.9 514.7,452.7 515.0,448.8 515.2,443.9 515.5,431.9 515.7,455.9 516.0,443.4 516.2,447.7 516.5,443.1 516.7,455.0 517.0,447.0 517.2,429.3 517.5,447.7 517.7,460.0 518.0,457.0 518.2,465.5 518.5,469.8 518.7,433.9 519.0,453.7 519.2,457.8 519.5,446.8 519.7,456.4 520.0,450.0 520.2,452.4 520.5,457.5 520.7,455.4 521.0,446.1 521.2,459.1 521.5,454.4 521.7,439.5 522.0,441.3 522.2,452.9 522.5,442.7 522.7,452.2 523.0,445.9 523.2,446.6 523.5,467.3 523.7,448.5 524.0,434.7 524.2,446.5 524.5,457.7 524.7,452.8 525.0,461.8 525.2,440.7 525.5,450.9 525.7,445.8 526.0,445.7 526.2,432.9 526.5,444.0 526.7,465.0 527.0,442.7 527.2,442.7 527.5,433.7 527.7,458.1 528.0,440.7 528.2,451.6 528.5,454.6 528.7,450.5 529.0,446.3 529.2,440.2 529.5,457.6 529.7,436.9 530.0,437.9 530.2,452.3 530.5,445.0 530.7,443.8 531.0,454.4 531.2,445.0 531.5,451.8 531.7,450.7 532.0,448.5 532.2,454.8 532.5,423.2 532.7,449.3 533.0,449.1 533.2,443.4 533.5,452.5 533.7,446.1 534.0,451.8 534.2,461.2 534.5,441.1 534.7,432.6 535.0,447.7 535.2,458.4 535.5,445.8 535.7,441.2 536.0,450.4 536.2,438.7 536.5,439.8 536.7,453.0 537.0,442.4 537.2,446.3 537.5,452.3 537.7,448.7 538.0,446.8 538.2,450.1 538.5,460.7 538.7,456.9 539.0,441.3 539.2,439.5 539.5,446.2 539.7,448.7 540.0,451.0 540.2,440.2 540.5,454.0 540.7,432.1 541.0,450.5 541.2,446.5 541.5,450.9 541.7,443.9 542.0,450.4 542.2,449.3 542.5,453.1 542.7,444.2 543.0,439.2 543.2,445.0 543.5,448.6 543.7,441.9 544.0,441.0 544.2,444.7 544.5,453.9 544.7,453.9 545.0,455.7 545.2,455.8 545.5,451.5 545.7,433.6 546.0,428.8 546.2,444.4 546.5,457.7 546.7,445.7 547.0,452.2 547.2,452.5 547.5,437.8 547.7,458.4 548.0,438.8 548.2,449.2 548.5,449.1 548.7,442.6 549.0,444.9 549.2,439.2 549.5,441.4 549.7,456.8 550.0,463.1 550.2,438.3 550.5,448.5 550.7,437.4 551.0,451.1 551.2,464.2 551.5,441.7 551.7,458.6 552.0,436.9 552.2,439.7 552.5,473.1 552.7,444.4 553.0,439.3 553.2,431.6 553.5,440.5 553.7,444.4 554.0,447.3 554.2,445.5 554.5,456.2 554.7,450.2 555.0,450.4 555.2,441.2 555.5,449.6 555.7,446.0 556.0,455.9 556.2,439.2 556.5,455.0 556.7,448.6 557.0,449.7 557.2,442.4 557.5,459.7 557.7,456.8 558.0,437.7 558.2,456.0 558.5,447.8 558.7,441.6 559.0,452.4 559.2,446.2 559.5,444.5 559.7,434.1 560.0,443.0 560.2,461.4 560.5,438.7 560.7,435.9 561.0,446.7 561.2,455.0 561.5,441.7 561.7,439.0 562.0,446.3 562.2,440.7 562.5,433.7 562.7,450.9 563.0,445.1 563.2,458.8 563.5,447.2 563.7,433.9 564.0,441.6 564.2,446.2 564.5,459.6 564.7,444.0 565.0,451.7 565.2,442.9 565.5,442.0 565.7,428.7 566.0,453.4 566.2,472.6 566.5,448.9 566.7,472.6 567.0,434.1 567.2,445.8 567.5,450.6 567.7,453.4 568.0,472.6 568.2,449.3 568.5,449.4 568.7,445.1 569.0,447.1 569.2,439.3 569.5,436.4 569.7,453.0 570.0,427.6 570.2,442.0 570.5,451.0 570.7,450.0 571.0,441.7 571.2,453.2 571.5,430.9 571.7,444.7 572.0,436.4 572.2,445.0 572.5,448.8 572.7,437.0 573.0,451.5 573.2,431.1 573.5,443.1 573.7,446.7 574.0,472.7 574.2,453.6 574.5,435.5 574.7,446.5 575.0,444.6 575.2,452.0 575.5,443.0 575.7,445.8 576.0,438.0 576.2,455.7 576.5,442.0 576.7,443.9 577.0,450.6 577.2,446.2 577.5,438.1 577.7,443.9 578.0,442.2 578.2,429.7 578.5,451.8 578.7,443.1 579.0,444.4 579.2,437.3 579.5,446.8 579.7,443.3 580.0,447.2 580.2,447.8 580.5,431.5 580.7,445.6 581.0,447.4 581.2,443.4 581.5,462.6 581.7,452.3 582.0,433.1 582.2,446.8 582.5,456.2 582.7,436.3 583.0,439.9 583.2,430.6 583.5,447.4 583.7,444.4 584.0,437.9 584.2,458.1 584.5,439.6 584.7,437.8 585.0,448.2 585.2,445.2 585.5,449.2 585.7,443.2 586.0,440.4 586.2,437.9 586.5,442.3 586.7,463.6 587.0,434.3 587.2,435.1 587.5,433.2 587.7,433.4 588.0,448.8 588.2,439.6 588.5,427.4 588.7,437.3 589.0,440.3 589.2,432.6 589.5,442.6 589.7,423.9 590.0,445.5 590.2,431.5 590.5,434.0 590.7,420.2 591.0,450.6 591.2,411.6 591.5,422.7 591.7,451.9 592.0,445.0 592.2,446.1 592.5,450.9 592.7,436.0 593.0,437.7 593.2,429.6 593.5,427.5 593.7,438.2 594.0,453.1 594.2,448.1 594.5,440.2 594.7,436.9 595.0,441.2 595.2,424.2 595.5,432.6 595.7,437.3 596.0,434.6 596.2,441.9 596.5,436.2 596.7,432.3 597.0,442.4 597.2,436.9 597.5,428.9 597.7,435.4 598.0,436.2 598.2,425.0 598.5,432.7 598.7,429.6 599.0,437.2 599.2,426.9 599.5,432.6 599.7,424.3 600.0,449.0 600.2,447.2 600.5,443.7 600.7,421.2 601.0,425.3 601.2,441.2 601.5,427.6 601.7,424.8 602.0,429.4 602.2,433.5 602.5,415.3 602.7,409.8 603.0,430.0 603.2,426.0 603.5,416.9 603.7,447.3 604.0,437.1 604.2,428.3 604.5,415.3 604.7,458.3 605.0,429.7 605.2,428.8 605.5,423.7 605.7,434.3 606.0,426.0 606.2,458.1 606.5,426.0 606.7,423.4 607.0,431.1 607.2,421.3 607.5,420.5 607.7,435.8 608.0,432.0 608.2,430.0 608.5,433.7 608.7,429.3 609.0,434.9 609.2,416.1 609.5,429.9 609.7,429.8 610.0,430.2 610.2,424.8 610.5,424.5 610.7,432.7 611.0,401.2 611.2,408.5 611.5,422.5 611.7,433.9 612.0,448.1 612.2,424.1 612.5,423.4 612.7,427.7 613.0,432.9 613.2,428.2 613.5,435.2 613.7,432.1 614.0,425.1 614.2,419.0 614.5,428.7 614.7,435.1 615.0,429.8 615.2,427.3 615.5,418.7 615.7,428.3 616.0,427.8 616.2,427.6 616.5,429.6 616.7,420.2 617.0,407.3 617.2,422.5 617.5,428.0 617.7,411.0 618.0,423.8 618.2,422.4 618.5,430.7 618.7,430.0 619.0,428.7 619.2,434.0 619.5,432.2 619.7,420.2 620.0,422.4 620.2,418.6 620.5,432.3 620.7,425.8 621.0,412.9 621.2,437.9 621.5,429.4 621.7,418.2 622.0,426.6 622.2,407.7 622.5,418.7 622.7,431.2 623.0,418.3 623.2,407.2 623.5,440.1 623.7,421.3 624.0,417.4 624.2,419.0 624.5,422.3 624.7,438.0 625.0,424.1 625.2,421.0 625.5,427.2 625.7,418.6 626.0,432.2 626.2,442.7 626.5,420.8 626.7,418.9 627.0,421.9 627.2,420.8 627.5,419.3 627.7,416.2 628.0,427.0 628.2,416.5 628.5,416.1 628.7,437.1 629.0,414.7 629.2,418.5 629.5,420.5 629.7,413.6 630.0,427.2 630.2,420.7 630.5,425.1 630.7,414.0 631.0,404.5 631.2,415.4 631.5,421.3 631.7,410.6 632.0,412.0 632.2,413.5 632.5,411.6 632.7,421.0 633.0,422.7 633.2,414.8 633.5,416.5 633.7,424.1 634.0,411.7 634.2,429.0 634.5,417.1 634.7,406.4 635.0,414.3 635.2,408.3 635.5,418.4 635.7,413.2 636.0,413.4 636.2,415.6 636.5,414.4 636.7,414.6 637.0,433.8 637.2,420.5 637.5,416.7 637.7,414.1 638.0,421.7 638.2,416.9 638.5,411.3 638.7,419.3 639.0,408.3 639.2,415.1 639.5,402.7 639.7,413.4 640.0,402.5 640.2,411.0 640.5,411.5 640.7,410.1 641.0,408.5 641.2,428.3 641.5,395.0 641.7,415.4 642.0,417.0 642.2,413.7 642.5,413.8 642.7,418.8 643.0,413.1 643.2,418.7 643.5,406.3 643.7,411.5 644.0,406.8 644.2,410.2 644.5,405.6 644.7,414.6 645.0,412.4 645.2,410.9 645.5,414.4 645.7,417.7 646.0,410.7 646.2,426.6 646.5,402.4 646.7,407.7 647.0,408.8 647.2,418.3 647.5,405.2 647.7,406.9 648.0,421.0 648.2,411.3 648.5,413.1 648.7,413.7 649.0,412.4 649.2,416.7 649.5,403.5 649.7,418.7 650.0,411.3 650.2,411.6 650.5,416.7 650.7,401.3 651.0,415.2 651.2,408.5 651.5,401.4 651.7,410.5 652.0,414.0 652.2,403.7 652.5,418.9 652.7,416.0 653.0,408.8 653.2,420.1 653.5,410.6 653.7,403.7 654.0,390.6 654.2,407.9 654.5,411.3 654.7,406.3 655.0,392.0 655.2,397.2 655.5,413.7 655.7,418.3 656.0,403.7 656.2,400.7 656.5,415.4 656.7,416.2 657.0,406.5 657.2,409.2 657.5,413.7 657.7,400.3 658.0,408.6 658.2,393.7 658.5,412.7 658.7,419.4 659.0,417.8 659.2,407.5 659.5,397.7 659.7,397.6 660.0,407.5 660.2,403.7 660.5,395.1 660.7,414.6 661.0,414.3 661.2,392.1 661.5,407.5 661.7,399.7 662.0,404.1 662.2,411.9 662.5,409.7 662.7,414.1 663.0,402.4 663.2,408.8 663.5,416.8 663.7,379.2 664.0,393.3 664.2,418.3 664.5,403.3 664.7,390.8 665.0,412.6 665.2,407.7 665.5,413.6 665.7,400.7 666.0,394.7 666.2,395.8 666.5,396.5 666.7,404.4 667.0,405.9 667.2,398.4 667.5,410.3 667.7,402.6 668.0,395.7 668.2,407.8 668.5,410.4 668.7,420.4 669.0,399.4 669.2,395.7 669.5,405.9 669.7,401.4 670.0,418.4 670.2,413.4 670.5,405.0 670.7,416.2 671.0,401.7 671.2,397.3 671.5,405.2 671.7,400.7 672.0,429.2 672.2,400.9 672.5,399.9 672.7,407.5 673.0,397.3 673.2,401.8 673.5,397.4 673.7,401.1 674.0,392.8 674.2,403.2 674.5,410.0 674.7,401.2 675.0,404.8 675.2,412.9 675.5,402.5 675.7,399.3 676.0,405.3 676.2,414.0 676.5,402.2 676.7,404.1 677.0,413.4 677.2,400.8 677.5,408.0 677.7,424.2 678.0,421.3 678.2,415.4 678.5,393.1 678.7,404.9 679.0,407.4 679.2,408.3 679.5,403.7 679.7,401.8 680.0,419.9 680.2,401.1 680.5,416.9 680.7,399.8 681.0,400.9 681.2,404.2 681.5,420.0 681.7,386.6 682.0,402.9 682.2,404.4 682.5,401.7 682.7,398.8 683.0,400.1 683.2,412.1 683.5,415.5 683.7,404.7 684.0,407.2 684.2,408.7 684.5,393.2 684.7,409.4 685.0,408.2 685.2,406.1 685.5,399.0 685.7,412.5 686.0,401.8 686.2,409.5 686.5,409.3 686.7,411.6 687.0,407.3 687.2,400.2 687.5,399.5 687.7,399.5 688.0,403.2 688.2,416.3 688.5,399.8 688.7,431.4 689.0,406.8 689.2,384.5 689.5,406.1 689.7,407.0 690.0,408.8 690.2,401.2 690.5,396.4 690.7,413.3 691.0,417.2 691.2,414.7 691.5,407.2 691.7,425.9 692.0,412.9 692.2,395.9 692.5,400.6 692.7,399.6 693.0,398.1 693.2,414.7 693.5,404.6 693.7,409.1 694.0,398.2 694.2,415.9 694.5,383.9 694.7,408.5 695.0,412.7 695.2,409.6 695.5,419.4 695.7,395.8 696.0,430.2 696.2,412.4 696.5,410.7 696.7,418.2 697.0,400.8 697.2,421.3 697.5,405.6 697.7,432.7 698.0,422.4 698.2,394.9 698.5,410.1 698.7,409.5 699.0,407.3 699.2,409.9 699.5,405.4 699.7,415.1 700.0,408.1 700.2,406.4 700.5,415.8 700.7,420.1 701.0,412.9 701.2,417.3 701.5,408.8 701.7,410.5 702.0,424.3 702.2,423.8 702.5,438.5 702.7,412.2 703.0,412.4 703.2,429.8 703.5,414.3 703.7,418.2 704.0,420.7 704.2,415.6 704.5,407.9 704.7,421.7 705.0,423.2 705.2,419.3 705.5,421.8 705.7,404.9 706.0,410.9 706.2,401.5 706.5,412.6 706.7,417.9 707.0,416.4 707.2,419.6 707.5,406.6 707.7,415.0 708.0,393.2 708.2,421.9 708.5,418.5 708.7,416.4 709.0,420.0 709.2,409.6 709.5,422.5 709.7,414.1 710.0,425.1 710.2,413.9 710.5,428.6 710.7,416.9 711.0,416.9 711.2,419.2 711.5,425.5 711.7,436.6 712.0,418.4 712.2,414.8 712.5,420.5 712.7,430.6 713.0,425.0 713.2,419.4 713.5,420.3 713.7,409.1 714.0,419.5 714.2,425.2 714.5,404.6 714.7,428.7 715.0,411.2 715.2,412.9 715.5,425.2 715.7,438.6 716.0,428.6 716.2,424.2 716.5,426.4 716.7,418.8 717.0,424.3 717.2,426.1 717.5,420.5 717.7,418.2 718.0,423.2 718.2,428.5 718.5,435.9 718.7,408.0 719.0,425.5 719.2,421.1 719.5,420.1 719.7,424.1 720.0,432.9 720.2,435.0 720.5,406.4 720.7,431.4 721.0,427.7 721.2,428.9 721.5,429.9 721.7,426.3 722.0,412.7 722.2,421.6 722.5,421.7 722.7,442.5 723.0,427.1 723.2,426.6 723.5,424.9 723.7,433.1 724.0,437.1 724.2,434.8 724.5,433.5 724.7,427.4 725.0,432.7 725.2,432.2 725.5,418.9 725.7,418.0 726.0,431.7 726.2,421.5 726.5,420.7 726.7,437.7 727.0,427.4 727.2,437.9 727.5,425.2 727.7,447.8 728.0,431.2 728.2,423.4 728.5,426.7 728.7,438.4 729.0,430.5 729.2,427.0 729.5,436.3 729.7,440.5 730.0,430.6 730.2,434.2 730.5,449.1 730.7,430.3 731.0,427.6 731.2,433.4 731.5,430.9 731.7,431.8 732.0,433.5 732.2,435.0 732.5,429.3 732.7,428.2 733.0,455.8 733.2,427.9 733.5,436.5 733.7,437.7 734.0,440.8 734.2,447.8 734.5,425.8 734.7,436.5 735.0,435.7 735.2,429.9 735.5,441.7 735.7,434.8 736.0,417.6 736.2,437.9 736.5,432.8 736.7,446.6 737.0,438.9 737.2,428.1 737.5,431.9 737.7,429.0 738.0,431.4 738.2,442.7 738.5,432.8 738.7,439.4 739.0,431.9 739.2,439.1 739.5,433.7 739.7,442.0 740.0,433.0 740.2,435.9 740.5,446.7 740.7,449.0 741.0,437.3 741.2,437.9 741.5,433.0 741.7,436.1 742.0,454.6 742.2,440.3 742.5,449.7 742.7,438.1 743.0,441.9 743.2,437.1 743.5,440.6 743.7,445.2 744.0,429.2 744.2,435.3 744.5,441.1 744.7,436.8 745.0,446.8 745.2,439.9 745.5,448.6 745.7,435.6 746.0,438.5 746.2,436.5 746.5,436.2 746.7,437.4 747.0,444.1 747.2,439.7 747.5,443.6 747.7,436.7 748.0,443.7 748.2,439.5 748.5,430.9 748.7,460.5 749.0,438.7 749.2,432.8 749.5,433.4 749.7,437.0 750.0,436.9 750.2,434.8 750.5,436.7 750.7,430.3 751.0,435.2 751.2,446.1 751.5,430.1 751.7,445.3 752.0,433.2 752.2,445.0 752.5,451.7 752.7,443.6 753.0,435.7 753.2,439.8 753.5,438.7 753.7,425.9 754.0,445.8 754.2,438.1 754.5,440.8 754.7,437.6 755.0,427.2 755.2,443.9 755.5,436.2 755.7,444.0 756.0,449.5 756.2,441.7 756.5,439.6 756.7,441.8 757.0,437.9 757.2,434.1 757.5,447.1 757.7,447.0 758.0,443.0 758.2,440.8 758.5,439.8 758.7,448.2 759.0,441.5 759.2,439.6 759.5,449.4 759.7,431.2 760.0,422.8 760.2,439.6 760.5,437.8 760.7,449.1 761.0,445.2 761.2,437.6 761.5,445.9 761.7,439.4 762.0,443.0 762.2,443.9 762.5,441.2 762.7,451.1 763.0,434.0 763.2,446.2 763.5,452.5 763.7,440.3 764.0,436.5 764.2,443.0 764.5,437.4 764.7,447.1 765.0,450.2 765.2,439.1 765.5,439.3 765.7,448.2 766.0,449.0 766.2,444.0 766.5,442.7 766.7,444.6 767.0,449.1 767.2,440.7 767.5,453.4 767.7,443.3 768.0,446.4 768.2,438.8 768.5,439.2 768.7,436.4 769.0,439.8 769.2,440.3 769.5,441.2 769.7,444.0 770.0,441.1 770.2,444.5 770.5,440.0 770.7,445.9 771.0,447.8 771.2,445.2 771.5,443.8 771.7,450.5 772.0,445.2 772.2,442.9 772.5,440.3 772.7,434.3 773.0,447.4 773.2,448.0 773.5,450.5 773.7,444.8 774.0,437.9 774.2,451.2 774.5,442.8 774.7,448.7 775.0,443.6 775.2,443.1 775.5,449.5 775.7,446.8 776.0,455.8 776.2,443.8 776.5,447.3 776.7,450.3 777.0,445.8 777.2,456.0 777.5,446.4 777.7,449.5 778.0,440.0 778.2,453.1 778.5,449.6 778.7,440.3 779.0,466.8 779.2,448.7 779.5,449.1 779.7,435.4 780.0,445.3 780.2,452.6 780.5,455.7 780.7,453.6 781.0,450.8 781.2,458.5 781.5,446.1 781.7,456.6 782.0,467.4 782.2,448.4 782.5,441.0 782.7,446.1 783.0,452.7 783.2,441.9 783.5,454.1 783.7,445.2 784.0,450.9 784.2,454.2 784.5,454.1 784.7,448.7 785.0,448.6 785.2,450.0 785.5,447.3 785.7,440.4 786.0,453.6 786.2,459.3 786.5,442.2 786.7,462.9 787.0,453.7 787.2,455.0 787.5,456.8 787.7,447.0 788.0,451.1 788.2,447.0 788.5,448.2 788.7,441.7 789.0,451.9 789.2,449.5 789.5,444.5 789.7,448.9 790.0,451.2 790.2,445.5 790.5,451.7 790.7,451.7 791.0,452.9 791.2,452.2 791.5,460.4 791.7,444.8 792.0,455.2 792.2,452.5 792.5,431.7 792.7,445.7 793.0,456.4 793.2,449.3 793.5,444.4 793.7,453.6 794.0,443.7 794.2,449.8 794.5,443.7 794.7,451.8 795.0,432.1 795.2,448.2 795.5,446.0 795.7,455.8 796.0,453.5 796.2,449.9 796.5,448.6 796.7,446.9 797.0,454.5 797.2,453.2 797.5,443.7 797.7,454.4 798.0,439.0 798.2,457.2 798.5,443.6 798.7,439.3 799.0,457.4 799.2,461.8 799.5,451.9 799.7,453.9 800.0,452.8 800.2,452.5 800.5,449.7 800.7,447.1 801.0,455.0 801.2,460.3 801.5,451.5 801.7,469.7 802.0,450.0 802.2,456.6 802.5,454.3 802.7,455.7 803.0,455.6 803.2,454.7 803.5,448.9 803.7,449.2 804.0,447.9 804.2,433.3 804.5,461.4 804.7,452.3 805.0,449.4 805.2,451.3 805.5,452.4 805.7,450.3 806.0,453.4 806.2,438.4 806.5,445.3 806.7,458.0 807.0,456.7 807.2,452.6 807.5,454.1 807.7,458.3 808.0,454.2 808.2,457.0 808.5,454.9 808.7,452.2 809.0,455.4 809.2,457.3 809.5,446.9 809.7,442.1 810.0,447.8 810.2,456.4 810.5,445.3 810.7,453.7 811.0,448.0 811.2,461.6 811.5,452.6 811.7,446.9 812.0,448.7 812.2,453.1 812.5,449.9 812.7,454.8 813.0,451.5 813.2,445.3 813.5,437.4 813.7,455.9 814.0,447.2 814.2,449.6 814.5,452.7 814.7,456.8 815.0,450.3 815.2,462.9 815.5,456.8 815.7,449.6 816.0,452.7 816.2,456.4 816.5,454.3 816.7,464.3 817.0,460.1 817.2,453.2 817.5,452.9 817.7,446.6 818.0,450.9 818.2,450.6 818.5,453.4 818.7,456.5 819.0,461.9 819.2,449.9 819.5,458.1 819.7,457.1 820.0,455.7 820.2,457.9 820.5,454.6 820.7,453.9 821.0,453.4 821.2,451.2 821.5,464.1 821.7,448.9 822.0,448.0 822.2,446.4 822.5,454.8 822.7,448.0 823.0,454.5 823.2,445.7 823.5,453.0 823.7,452.4 824.0,446.5 824.2,457.9 824.5,456.4 824.7,454.7 825.0,471.5 825.2,452.9 825.5,460.7 825.7,465.0 826.0,452.9 826.2,449.7 826.5,462.7 826.7,456.3 827.0,450.8 827.2,450.2 827.5,447.0 827.7,461.0 828.0,450.8 828.2,459.7 828.5,450.2 828.7,453.0 829.0,454.2 829.2,448.7 829.5,455.5 829.7,450.5 830.0,460.9 830.2,463.2 830.5,455.3 830.7,447.4 831.0,455.7 831.2,455.7 831.5,451.6 831.7,456.3 832.0,468.9 832.2,463.8 832.5,447.0 832.7,460.0 833.0,453.7 833.2,450.8 833.5,454.7 833.7,449.7 834.0,454.0 834.2,449.8 834.5,458.8 834.7,463.9 835.0,454.0 835.2,446.4 835.5,460.5 835.7,449.1 836.0,449.2 836.2,455.9 836.5,446.9 836.7,463.6 837.0,451.1 837.2,447.3 837.5,455.1 837.7,456.0 838.0,452.6 838.2,463.8 838.5,454.4 838.7,451.7 839.0,456.0 839.2,457.7 839.5,448.7 839.7,456.7 840.0,467.7 840.2,437.5 840.5,451.9 840.7,453.3 841.0,462.8 841.2,457.6 841.5,458.6 841.7,461.5 842.0,451.9 842.2,456.5 842.5,443.6 842.7,456.7 843.0,450.7 843.2,440.8 843.5,454.9 843.7,460.2 844.0,456.1 844.2,448.9 844.5,465.1 844.7,457.9 845.0,445.5 845.2,456.3 845.5,451.8 845.7,439.8 846.0,451.2 846.2,452.3 846.5,449.8 846.7,462.8 847.0,451.1 847.2,468.3 847.5,459.2 847.7,450.8 848.0,454.0 848.2,451.1 848.5,446.5 848.7,453.3 849.0,453.9 849.2,459.3 849.5,451.4 849.7,448.1 850.0,465.3 850.2,458.5 850.5,456.2 850.7,458.1 851.0,456.5 851.2,461.0 851.5,456.7 851.7,453.5 852.0,454.0 852.2,457.1 852.5,454.7 852.7,461.1 853.0,461.0 853.2,455.7 853.5,449.3 853.7,453.7 854.0,451.1 854.2,459.4 854.5,455.8 854.7,453.4 855.0,438.7 855.2,449.8 855.5,461.1 855.7,438.8 856.0,454.5 856.2,456.0 856.5,455.6 856.7,467.8 857.0,460.1 857.2,458.6 857.5,456.7 857.7,465.6 858.0,454.3 858.2,456.8 858.5,457.2 858.7,454.4 859.0,454.8 859.2,453.6 859.5,460.2 859.7,457.4 860.0,459.4 860.2,463.2 860.5,456.5 860.7,459.3 861.0,451.1 861.2,460.4 861.5,451.0 861.7,456.6 862.0,467.0 862.2,463.3 862.5,451.9 862.7,459.9 863.0,459.9 863.2,463.7 863.5,464.8 863.7,455.2 864.0,447.0 864.2,465.3 864.5,458.3 864.7,457.7 865.0,455.4 865.2,459.8 865.5,451.2 865.7,465.1 866.0,458.4 866.2,455.9 866.5,455.5 866.7,462.1 867.0,467.2 867.2,463.4 867.5,455.9 867.7,454.0 868.0,468.4 868.2,448.9 868.5,439.3 868.7,454.2 869.0,449.5 869.2,474.2 869.5,456.3 869.7,461.8 870.0,446.8 870.2,460.9 870.5,460.6 870.7,451.4 871.0,458.2 871.2,454.2 871.5,458.2 871.7,448.2 872.0,451.0 872.2,453.5 872.5,453.6 872.7,461.1 873.0,459.7 873.2,454.0 873.5,455.1 873.7,459.3 874.0,453.6 874.2,451.8 874.5,450.4 874.7,453.5 875.0,459.9 875.2,465.3 875.5,458.8 875.7,459.8 876.0,457.1 876.2,452.5 876.5,462.1 876.7,453.0 877.0,453.8 877.2,444.3 877.5,455.2 877.7,455.0 878.0,458.2 878.2,458.0 878.5,458.9 878.7,456.1 879.0,457.9 879.2,457.7 879.5,458.7 879.7,465.7 880.0,458.4 880.2,454.3 880.5,457.7 880.7,450.8 881.0,459.9 881.2,454.5 881.5,454.1 881.7,465.1 882.0,457.5 882.2,465.2 882.5,451.7 882.7,458.5 883.0,452.3 883.2,449.2 883.5,454.6 883.7,444.9 884.0,456.7 884.2,455.9 884.5,446.0 884.7,472.2 885.0,456.7 885.2,460.7 885.5,457.9 885.7,461.6 886.0,462.5 886.2,457.5 886.5,461.5 886.7,456.2 887.0,458.3 887.2,461.6 887.5,467.1 887.7,461.8 888.0,455.6 888.2,465.0 888.5,462.6 888.7,456.3 889.0,455.6 889.2,446.1 889.5,451.6 889.7,446.3 890.0,459.4 890.2,456.7 890.5,450.9 890.7,474.4 891.0,455.7 891.2,464.0 891.5,453.7 891.7,451.8 892.0,464.9 892.2,449.1 892.5,459.0 892.7,450.3 893.0,456.9 893.2,456.4 893.5,456.3 893.7,457.6 894.0,460.2 894.2,453.5 894.5,456.9 894.7,458.4 895.0,453.9 895.2,456.2 895.5,459.7 895.7,458.5 896.0,448.0 896.2,464.3 896.5,469.0 896.7,454.3 897.0,454.1 897.2,461.1 897.5,452.1 897.7,464.1 898.0,458.6 898.2,453.3 898.5,455.5 898.7,473.4 899.0,458.9 899.2,455.7 899.5,457.0 899.7,464.4 900.0,447.8 900.2,456.2 900.5,455.9 900.7,452.9 901.0,453.8 901.2,458.9 901.5,462.8 901.7,460.2 902.0,464.2 902.2,457.6 902.5,458.7 902.7,455.8 903.0,456.6 903.2,448.0 903.5,459.7 903.7,474.3 904.0,459.9 904.2,458.6 904.5,455.8 904.7,460.6 905.0,463.1 905.2,463.1 905.5,441.2 905.7,451.5 906.0,463.9 906.2,445.5 906.5,458.1 906.7,456.8 907.0,455.5 907.2,452.7 907.5,454.5 907.7,460.3 908.0,452.3 908.2,448.5 908.5,455.7 908.7,459.1 909.0,459.2 909.2,459.7 909.5,456.6 909.7,457.9 910.0,452.4 910.2,461.8 910.5,453.2 910.7,447.7 911.0,461.1 911.2,462.4 911.5,460.6 911.7,449.1 912.0,453.4 912.2,456.5 912.5,458.1 912.7,456.4 913.0,455.6 913.2,453.4 913.5,451.2 913.7,449.8 914.0,454.4 914.2,460.7 914.5,466.9 914.7,455.6 915.0,457.3 915.2,454.3 915.5,459.0 915.7,457.8 916.0,453.6 916.2,455.5 916.5,452.4 916.7,450.8 917.0,462.0 917.2,455.5 917.5,453.1 917.7,451.3 918.0,474.1 918.2,463.7 918.5,446.9 918.7,464.8 919.0,457.2 919.2,447.6 919.5,465.1 919.7,463.0 920.0,440.0 920.2,466.9 920.5,462.6 920.7,457.2 921.0,472.9 921.2,450.6 921.5,460.6 921.7,459.0 922.0,457.8 922.2,463.6 922.5,459.2 922.7,463.8 923.0,460.6 923.2,455.7 923.5,456.3 923.7,455.1 924.0,464.4 924.2,444.2 924.5,462.8 924.7,461.0 925.0,444.5 925.2,456.5 925.5,449.6 925.7,450.7 926.0,464.3 926.2,453.7 926.5,447.3 926.7,457.0 927.0,455.6 927.2,461.0 927.5,456.3 927.7,457.7 928.0,439.8 928.2,455.4 928.5,452.2 928.7,458.2 929.0,460.9 929.2,460.3 929.5,459.7 929.7,448.2 930.0,465.8 930.2,461.6 930.5,457.4 930.7,458.9 931.0,460.9 931.2,455.5 931.5,450.7 931.7,464.8 932.0,462.7 932.2,459.6 932.5,450.8 932.7,455.0 933.0,446.6 933.2,455.5 933.5,459.1 933.7,454.2 934.0,454.6 934.2,465.5 934.5,464.0 934.7,461.2 935.0,449.2 935.2,459.0 935.5,464.0 935.7,456.0 936.0,457.9 936.2,456.4 936.5,473.5 936.7,452.4 937.0,453.3 937.2,462.0 937.5,455.0 937.7,452.8 938.0,459.5 938.2,450.8 938.5,453.4 938.7,468.4 939.0,447.0 939.2,464.1 939.5,455.4 939.7,457.6 940.0,457.3 940.2,459.6 940.5,457.7 940.7,454.3 941.0,453.2 941.2,460.5 941.5,461.7 941.7,461.5 942.0,457.4 942.2,460.4 942.5,451.2 942.7,454.4 943.0,457.1 943.2,457.9 943.5,452.1 943.7,452.3 944.0,451.8 944.2,462.7 944.5,450.8 944.7,472.6 945.0,448.6 945.2,460.9 945.5,456.6 945.7,459.1 946.0,460.1 946.2,462.3 946.5,465.6 946.7,457.5 947.0,458.7 947.2,439.7 947.5,453.5 947.7,456.0 948.0,471.8 948.2,456.2 948.5,459.6 948.7,454.4 949.0,439.4 949.2,439.4 949.5,461.3 949.7,449.3 950.0,450.3 950.2,452.5 950.5,457.4 950.7,453.9 951.0,458.7 951.2,459.8 951.5,455.4 951.7,460.9 952.0,473.1 952.2,453.9 952.5,455.0 952.7,463.0 953.0,452.7 953.2,455.4 953.5,456.8 953.7,459.1 954.0,453.3 954.2,457.5 954.5,459.5 954.7,452.4 955.0,463.2 955.2,451.3 955.5,454.7 955.7,460.1 956.0,457.9 956.2,453.1 956.5,461.9 956.7,460.8 957.0,456.6 957.2,456.9 957.5,452.1 957.7,461.7 958.0,460.7 958.2,455.8 958.5,448.6 958.7,459.9 959.0,451.5 959.2,457.6 959.5,453.2 959.7,450.9 960.0,442.7 960.2,462.4 960.5,456.4 960.7,449.2 961.0,460.0 961.2,455.1 961.5,457.9 961.7,439.1 962.0,457.1 962.2,461.1 962.5,452.2 962.7,449.2 963.0,455.6 963.2,456.0 963.5,456.1 963.7,455.9 964.0,451.2 964.2,448.6 964.5,456.2 964.7,462.9 965.0,455.7 965.2,463.5 965.5,457.5 965.7,453.1 966.0,459.2 966.2,455.7 966.5,453.8 966.7,458.5 967.0,459.6 967.2,441.8 967.5,458.1 967.7,456.0 968.0,456.7 968.2,446.8 968.5,458.6 968.7,467.5 969.0,449.2 969.2,461.9 969.5,451.9 969.7,443.4 970.0,457.0 970.2,460.3 970.5,460.2 970.7,453.2 971.0,455.5 971.2,459.6 971.5,455.6 971.7,459.3 972.0,450.9 972.2,456.1 972.5,451.1 972.7,461.8 973.0,452.1 973.2,454.8 973.5,450.2 973.7,452.3 974.0,455.0 974.2,457.5 974.5,454.3 974.7,461.8 975.0,440.6 975.2,447.5 975.5,456.8 975.7,456.0 976.0,453.8 976.2,454.7 976.5,457.2 976.7,453.8 977.0,460.2 977.2,456.8 977.5,456.0 977.7,452.4 978.0,449.1 978.2,456.1 978.5,453.5 978.7,457.0 979.0,450.8 979.2,460.0 979.5,463.5 979.7,455.1 980.0,450.6 980.2,449.3 980.5,456.8 980.7,458.1 981.0,457.6 981.2,451.9 981.5,453.4 981.7,458.6 982.0,456.2 982.2,451.2 982.5,455.2 982.7,452.7 983.0,458.1 983.2,453.5 983.5,453.6 983.7,451.9 984.0,454.6 984.2,463.6 984.5,450.4 984.7,462.3 985.0,457.9 985.2,457.5 985.5,459.8 985.7,460.5 986.0,456.2 986.2,461.4 986.5,471.9 986.7,462.9 987.0,452.2 987.2,460.0 987.5,457.1 987.7,462.3 988.0,452.9 988.2,454.2 988.5,456.8 988.7,444.8 989.0,450.7 989.2,454.0 989.5,452.0 989.7,452.2 990.0,455.4 990.2,457.9 990.5,455.5 990.7,454.6 991.0,457.2 991.2,456.9 991.5,450.1 991.7,454.0 992.0,458.1 992.2,453.6 992.5,454.4 992.7,456.2 993.0,452.3 993.2,452.7 993.5,453.9 993.7,461.2 994.0,458.3" fill="none" stroke="#1a1a1a" stroke-width="1.2" stroke-linejoin="round"/>
<path d="M90.2,663.2 90.5,641.2 90.7,643.3 91.0,642.9 91.2,637.2 91.5,644.4 91.7,645.7 92.0,641.9 92.2,660.2 92.5,655.7 92.7,650.5 93.0,652.6 93.2,647.1 93.5,638.4 93.7,652.9 94.0,653.8 94.2,648.8 94.5,640.7 94.7,649.5 95.0,646.2 95.2,624.9 95.5,670.4 95.7,648.5 96.0,638.5 96.2,655.2 96.5,638.8 96.7,649.1 97.0,639.5 97.2,664.5 97.5,643.6 97.7,625.0 98.0,651.9 98.2,643.7 98.5,653.4 98.7,645.0 99.0,656.2 99.2,629.7 99.5,648.1 99.7,636.2 100.0,647.9 100.2,650.5 100.5,648.8 100.7,643.7 101.0,650.7 101.2,650.0 101.5,647.2 101.7,639.1 102.0,648.2 102.2,647.8 102.5,633.1 102.7,639.1 103.0,643.9 103.2,644.8 103.5,670.4 103.7,642.5 104.0,650.8 104.2,657.9 104.5,652.4 104.7,649.2 105.0,643.2 105.2,642.2 105.5,660.2 105.7,638.9 106.0,638.0 106.2,646.6 106.5,647.4 106.7,637.4 107.0,650.2 107.2,645.1 107.5,641.7 107.7,644.8 108.0,641.6 108.2,640.3 108.5,633.3 108.7,640.1 109.0,632.6 109.2,647.3 109.5,654.5 109.7,645.4 110.0,648.3 110.2,645.9 110.5,646.9 110.7,647.2 111.0,653.5 111.2,645.5 111.5,642.3 111.7,649.8 112.0,646.5 112.2,645.9 112.5,648.3 112.7,660.6 113.0,645.9 113.2,648.2 113.5,655.0 113.7,649.6 114.0,665.1 114.2,646.3 114.5,627.4 114.7,631.9 115.0,643.5 115.2,650.7 115.5,632.7 115.7,652.3 116.0,644.2 116.2,642.9 116.5,641.6 116.7,651.8 117.0,655.3 117.2,650.3 117.5,640.2 117.7,639.5 118.0,640.3 118.2,647.9 118.5,655.3 118.7,649.1 119.0,642.4 119.2,649.1 119.5,642.6 119.7,643.5 120.0,638.8 120.2,649.3 120.5,648.6 120.7,657.4 121.0,643.3 121.2,645.9 121.5,654.1 121.7,635.5 122.0,648.0 122.2,643.2 122.5,648.4 122.7,646.4 123.0,643.9 123.2,652.1 123.5,649.8 123.7,656.3 124.0,636.0 124.2,644.9 124.5,651.7 124.7,651.3 125.0,647.2 125.2,633.2 125.5,637.0 125.7,651.9 126.0,636.6 126.2,639.6 126.5,639.9 126.7,646.0 127.0,640.4 127.2,651.9 127.5,646.0 127.7,644.1 128.0,641.2 128.2,651.5 128.4,646.1 128.7,657.6 128.9,647.5 129.2,659.8 129.4,649.9 129.7,643.5 129.9,650.5 130.2,652.9 130.4,652.5 130.7,651.1 130.9,645.9 131.2,656.0 131.4,647.7 131.7,645.1 131.9,642.3 132.2,652.9 132.4,644.7 132.7,639.8 132.9,653.5 133.2,649.3 133.4,643.0 133.7,638.9 133.9,643.0 134.2,655.5 134.4,642.3 134.7,641.5 134.9,637.4 135.2,636.6 135.4,644.0 135.7,630.1 135.9,652.4 136.2,618.9 136.4,640.4 136.7,638.2 136.9,646.5 137.2,647.9 137.4,667.8 137.7,641.0 137.9,653.9 138.2,657.7 138.4,642.2 138.7,647.3 138.9,645.2 139.2,652.6 139.4,628.8 139.7,641.3 139.9,650.0 140.2,634.5 140.4,634.7 140.7,644.6 140.9,655.1 141.2,641.4 141.4,649.2 141.7,641.7 141.9,637.8 142.2,640.8 142.4,639.9 142.7,650.6 142.9,629.7 143.2,643.1 143.4,647.8 143.7,640.1 143.9,641.1 144.2,649.6 144.4,641.2 144.7,639.5 144.9,651.0 145.2,637.1 145.4,644.0 145.7,639.6 145.9,637.3 146.2,639.9 146.4,633.1 146.7,645.1 146.9,635.6 147.2,639.8 147.4,640.0 147.7,648.2 147.9,638.2 148.2,619.8 148.4,642.6 148.7,646.5 148.9,642.8 149.2,631.9 149.4,634.6 149.7,635.1 149.9,642.1 150.2,635.0 150.4,645.7 150.7,638.6 150.9,632.3 151.2,631.7 151.4,632.0 151.7,635.7 151.9,640.8 152.2,636.7 152.4,639.4 152.7,636.9 152.9,631.5 153.2,638.0 153.4,629.7 153.7,627.6 153.9,640.5 154.2,631.1 154.4,628.8 154.7,642.1 154.9,639.8 155.2,613.3 155.4,642.9 155.7,638.7 155.9,643.3 156.2,651.9 156.4,629.3 156.7,642.8 156.9,632.7 157.2,639.0 157.4,652.4 157.7,648.8 157.9,627.7 158.2,633.3 158.4,613.8 158.7,623.9 158.9,631.0 159.2,643.7 159.4,645.7 159.7,632.5 159.9,630.8 160.2,625.1 160.4,639.7 160.7,636.2 160.9,612.1 161.2,644.9 161.4,630.8 161.7,637.7 161.9,638.8 162.2,631.9 162.4,645.7 162.7,625.7 162.9,618.8 163.2,645.6 163.4,640.6 163.7,647.4 163.9,631.4 164.2,628.3 164.4,642.0 164.7,637.2 164.9,645.3 165.2,647.1 165.4,633.6 165.7,611.2 165.9,648.0 166.2,630.1 166.4,632.6 166.7,637.3 166.9,661.5 167.2,637.0 167.4,638.6 167.7,641.1 167.9,635.8 168.2,634.0 168.4,623.4 168.7,633.8 168.9,641.1 169.2,641.2 169.4,645.4 169.7,638.2 169.9,630.6 170.2,635.8 170.4,634.3 170.7,639.2 170.9,648.4 171.2,632.7 171.4,629.8 171.7,637.4 171.9,636.8 172.2,609.8 172.4,640.8 172.7,634.4 172.9,636.7 173.2,635.5 173.4,627.5 173.7,632.5 173.9,628.9 174.2,643.6 174.4,616.9 174.7,630.2 174.9,631.2 175.2,641.6 175.4,632.7 175.7,633.9 175.9,609.1 176.2,640.7 176.4,626.3 176.7,627.8 176.9,642.5 177.2,637.8 177.4,630.8 177.7,625.9 177.9,641.1 178.2,628.1 178.4,619.1 178.7,627.7 178.9,634.2 179.2,636.4 179.4,644.4 179.7,640.5 179.9,640.9 180.2,638.6 180.4,627.8 180.7,608.1 180.9,627.9 181.2,639.4 181.4,652.7 181.7,638.8 181.9,621.7 182.2,637.8 182.4,640.8 182.7,634.4 182.9,620.2 183.2,634.9 183.4,635.2 183.7,628.2 183.9,634.6 184.2,621.7 184.4,630.6 184.7,630.7 184.9,618.1 185.2,641.7 185.4,629.9 185.7,625.0 185.9,640.8 186.2,652.2 186.4,638.2 186.7,634.5 186.9,630.5 187.2,626.8 187.4,637.1 187.7,634.0 187.9,621.1 188.2,632.4 188.4,639.9 188.7,639.5 188.9,633.2 189.2,637.8 189.4,629.8 189.7,642.9 189.9,638.5 190.2,637.0 190.4,628.8 190.7,626.9 190.9,625.8 191.2,626.9 191.4,621.6 191.7,640.7 191.9,630.7 192.2,631.1 192.4,627.9 192.7,628.8 192.9,642.2 193.2,650.0 193.4,634.6 193.7,634.0 193.9,605.8 194.2,621.6 194.4,639.4 194.7,629.4 194.9,631.0 195.2,632.6 195.4,621.1 195.7,622.0 195.9,628.1 196.2,624.1 196.4,637.6 196.7,628.7 196.9,633.2 197.2,632.0 197.4,629.0 197.7,633.3 197.9,623.8 198.2,636.7 198.4,639.0 198.7,646.8 198.9,619.5 199.2,627.0 199.4,628.4 199.7,634.4 199.9,631.1 200.2,627.1 200.4,628.9 200.7,627.6 200.9,622.1 201.2,630.8 201.4,616.3 201.7,630.2 201.9,629.5 202.2,633.5 202.4,630.8 202.7,622.4 202.9,624.9 203.2,628.7 203.4,636.7 203.7,633.4 203.9,635.1 204.2,642.4 204.4,632.1 204.7,630.5 204.9,629.9 205.2,628.5 205.4,610.6 205.7,626.6 205.9,625.3 206.2,637.2 206.4,624.9 206.7,625.4 206.9,620.2 207.2,631.6 207.4,628.7 207.7,629.6 207.9,610.1 208.2,607.2 208.4,604.5 208.7,630.4 208.9,622.8 209.2,640.2 209.4,617.0 209.7,616.5 209.9,626.8 210.2,615.8 210.4,630.8 210.7,616.7 210.9,597.4 211.2,619.4 211.4,614.0 211.7,617.7 211.9,631.2 212.2,626.0 212.4,622.0 212.7,626.1 212.9,622.0 213.2,616.1 213.4,618.5 213.7,646.5 213.9,624.3 214.2,635.2 214.4,620.0 214.7,625.8 214.9,612.7 215.2,617.6 215.4,614.6 215.7,613.5 215.9,623.2 216.2,624.9 216.4,620.9 216.7,616.8 216.9,617.0 217.2,607.3 217.4,625.7 217.7,601.2 217.9,622.1 218.2,610.7 218.4,619.6 218.7,616.3 218.9,614.2 219.2,603.5 219.4,598.5 219.7,620.7 219.9,597.0 220.2,595.9 220.4,603.6 220.7,606.1 220.9,602.8 221.2,608.8 221.4,614.5 221.7,594.8 221.9,621.5 222.2,609.4 222.4,607.8 222.7,603.9 222.9,607.6 223.2,616.6 223.4,612.4 223.7,619.5 223.9,618.6 224.2,612.3 224.4,606.5 224.7,613.5 224.9,599.4 225.2,611.6 225.4,613.6 225.7,612.8 225.9,620.9 226.2,596.4 226.4,605.1 226.7,607.2 226.9,614.0 227.2,609.3 227.4,614.0 227.7,581.5 227.9,620.0 228.2,613.7 228.4,596.3 228.7,616.3 228.9,598.9 229.2,605.4 229.4,615.8 229.7,611.5 229.9,608.3 230.2,620.6 230.4,613.7 230.7,586.1 230.9,593.4 231.2,594.7 231.4,597.1 231.7,603.3 231.9,596.6 232.2,601.7 232.4,607.2 232.7,599.8 232.9,598.1 233.2,600.3 233.4,595.6 233.7,598.6 233.9,591.0 234.2,583.4 234.4,589.6 234.7,584.6 234.9,583.7 235.2,594.1 235.4,606.6 235.7,588.0 235.9,588.6 236.2,590.2 236.4,590.3 236.7,579.3 236.9,569.7 237.2,599.5 237.4,591.5 237.7,577.8 237.9,586.6 238.2,568.8 238.4,587.4 238.7,589.6 238.9,566.4 239.2,589.2 239.4,596.1 239.7,603.3 239.9,597.7 240.2,588.7 240.4,593.7 240.7,589.9 240.9,583.8 241.2,589.8 241.4,598.1 241.7,597.8 241.9,588.3 242.2,588.6 242.4,575.9 242.7,592.4 242.9,585.4 243.2,586.8 243.4,581.2 243.7,600.6 243.9,582.0 244.2,589.7 244.4,584.0 244.7,609.9 244.9,584.5 245.2,619.4 245.4,596.4 245.7,583.9 245.9,597.0 246.2,589.5 246.4,605.1 246.7,601.6 246.9,593.0 247.2,596.4 247.4,584.0 247.7,573.6 247.9,589.1 248.2,611.6 248.4,600.2 248.7,569.5 248.9,579.6 249.2,594.1 249.4,594.1 249.7,600.0 249.9,594.7 250.2,597.3 250.4,604.9 250.7,599.5 250.9,604.1 251.2,594.7 251.4,599.1 251.7,587.9 251.9,581.6 252.2,599.9 252.4,611.4 252.7,611.7 252.9,604.1 253.2,600.0 253.4,605.5 253.7,604.7 253.9,597.7 254.2,604.9 254.4,618.8 254.7,603.6 254.9,596.7 255.2,595.6 255.4,595.8 255.7,623.2 255.9,602.8 256.2,603.2 256.4,588.2 256.7,604.5 256.9,613.1 257.2,609.4 257.4,606.0 257.7,605.4 257.9,608.4 258.2,605.4 258.4,609.8 258.7,611.4 258.9,607.5 259.2,608.2 259.4,598.9 259.7,607.1 259.9,606.1 260.2,597.4 260.4,607.6 260.7,606.3 260.9,615.2 261.2,601.8 261.4,605.1 261.7,590.1 261.9,607.0 262.2,609.5 262.4,615.3 262.7,612.6 262.9,600.3 263.2,609.7 263.4,610.0 263.7,592.7 263.9,597.7 264.2,599.5 264.4,599.3 264.7,607.9 264.9,615.7 265.2,603.8 265.4,608.1 265.7,604.7 265.9,609.9 266.2,604.8 266.4,604.9 266.7,605.6 266.9,615.9 267.2,609.7 267.4,611.7 267.7,593.1 267.9,614.4 268.2,610.1 268.4,605.0 268.7,617.9 268.9,603.7 269.2,605.7 269.4,614.2 269.7,600.8 269.9,592.4 270.2,599.1 270.4,612.8 270.7,602.1 270.9,607.5 271.2,611.5 271.4,597.4 271.7,608.5 271.9,609.8 272.2,610.4 272.4,618.3 272.7,589.7 272.9,605.9 273.2,604.2 273.4,609.1 273.7,606.1 273.9,602.2 274.2,604.7 274.4,614.9 274.7,601.0 274.9,616.6 275.2,604.6 275.4,619.2 275.7,615.1 275.9,601.8 276.2,613.8 276.4,612.4 276.7,606.8 276.9,587.7 277.2,599.3 277.4,609.8 277.7,618.3 277.9,601.4 278.2,607.7 278.4,634.2 278.7,614.6 278.9,597.4 279.2,609.9 279.4,621.3 279.7,600.2 279.9,603.4 280.2,606.2 280.4,600.3 280.7,590.5 280.9,592.8 281.2,609.2 281.4,617.5 281.7,611.8 281.9,611.8 282.2,600.8 282.4,602.5 282.7,598.2 282.9,599.6 283.2,601.5 283.4,606.3 283.7,608.5 283.9,610.7 284.2,606.5 284.4,629.0 284.7,610.8 284.9,618.9 285.2,610.2 285.4,611.9 285.7,604.2 285.9,582.4 286.2,608.9 286.4,602.0 286.7,613.9 286.9,610.3 287.2,606.1 287.4,595.5 287.7,607.9 287.9,596.6 288.2,609.1 288.4,615.3 288.7,611.2 288.9,591.4 289.2,592.0 289.4,608.3 289.7,614.2 289.9,611.2 290.2,605.1 290.4,605.2 290.7,599.1 290.9,577.6 291.2,607.2 291.4,620.4 291.7,601.6 291.9,612.6 292.2,600.3 292.4,603.6 292.7,592.9 292.9,602.9 293.2,601.0 293.4,610.9 293.7,605.0 293.9,606.6 294.2,605.3 294.4,606.7 294.7,609.5 294.9,602.9 295.2,589.1 295.4,598.5 295.7,602.3 295.9,593.5 296.2,609.8 296.4,608.2 296.7,589.4 296.9,612.3 297.2,594.9 297.4,609.8 297.7,595.7 297.9,602.3 298.2,575.5 298.4,590.1 298.7,594.3 298.9,607.5 299.2,604.2 299.4,608.7 299.7,596.0 299.9,607.6 300.2,601.0 300.4,601.1 300.7,605.3 300.9,620.5 301.2,601.5 301.4,609.5 301.7,581.2 301.9,597.2 302.2,594.8 302.4,592.5 302.7,585.7 302.9,592.9 303.2,585.1 303.4,589.5 303.7,576.4 303.9,601.0 304.2,581.6 304.4,586.1 304.7,603.4 304.9,593.4 305.2,591.8 305.4,601.2 305.7,595.0 305.9,597.6 306.2,592.9 306.4,588.9 306.7,593.8 306.9,574.5 307.2,590.1 307.4,592.2 307.7,618.5 307.9,587.6 308.2,583.1 308.4,597.4 308.7,594.7 308.9,585.5 309.2,580.9 309.4,603.1 309.7,607.7 309.9,593.6 310.2,582.7 310.4,589.0 310.7,579.0 310.9,584.9 311.2,591.1 311.4,581.0 311.7,591.5 311.9,568.5 312.2,610.8 312.4,582.4 312.7,589.4 312.9,598.5 313.2,590.6 313.4,566.1 313.7,562.1 313.9,569.5 314.2,593.6 314.4,573.6 314.7,583.9 314.9,568.2 315.2,578.9 315.4,583.5 315.7,571.4 315.9,581.5 316.2,579.1 316.4,588.1 316.7,569.7 316.9,569.6 317.2,581.7 317.4,568.4 317.7,584.3 317.9,562.5 318.2,573.7 318.4,571.9 318.7,572.1 318.9,547.6 319.2,564.3 319.4,568.7 319.7,577.9 319.9,572.9 320.2,560.9 320.4,566.0 320.7,558.8 320.9,563.2 321.2,547.9 321.4,549.2 321.7,543.2 321.9,570.6 322.2,571.5 322.4,548.6 322.7,545.0 322.9,550.8 323.2,543.4 323.4,540.0 323.7,550.9 323.9,572.4 324.2,561.5 324.4,557.7 324.7,555.5 324.9,536.6 325.2,535.1 325.4,554.3 325.7,527.4 325.9,548.2 326.2,542.2 326.4,547.5 326.7,543.2 326.9,546.4 327.2,532.6 327.4,525.3 327.7,551.5 327.9,520.8 328.2,533.4 328.4,546.5 328.7,534.7 328.9,521.5 329.2,521.6 329.4,531.6 329.7,522.5 329.9,535.5 330.2,518.3 330.4,514.7 330.7,518.6 330.9,531.5 331.2,522.3 331.4,518.3 331.7,526.5 331.9,515.6 332.2,520.9 332.4,517.9 332.7,520.1 332.9,515.8 333.2,520.4 333.4,517.5 333.7,499.8 333.9,516.2 334.2,483.4 334.4,530.0 334.7,509.9 334.9,506.4 335.2,515.5 335.4,502.3 335.7,490.1 335.9,499.1 336.2,494.4 336.4,504.1 336.7,509.5 336.9,509.5 337.2,493.2 337.4,502.7 337.7,497.9 337.9,486.4 338.2,502.4 338.4,511.7 338.7,493.0 338.9,495.4 339.2,494.2 339.4,497.1 339.7,495.8 339.9,503.2 340.2,489.5 340.4,488.3 340.7,494.2 340.9,511.0 341.2,494.7 341.4,486.2 341.7,505.3 341.9,499.3 342.2,509.7 342.4,498.9 342.7,477.6 342.9,485.6 343.2,512.0 343.4,489.7 343.7,501.8 343.9,500.5 344.2,494.4 344.4,503.8 344.7,525.1 344.9,491.8 345.2,494.2 345.4,506.8 345.7,495.6 345.9,513.1 346.2,502.1 346.4,502.1 346.7,493.6 346.9,504.7 347.2,531.3 347.4,498.5 347.7,536.7 347.9,524.0 348.2,526.0 348.4,515.1 348.7,517.8 348.9,518.6 349.2,522.5 349.4,522.2 349.7,536.3 349.9,529.2 350.2,532.4 350.4,521.0 350.7,531.5 350.9,530.4 351.2,539.6 351.4,528.2 351.7,541.2 351.9,527.3 352.2,538.7 352.4,551.4 352.7,537.3 352.9,544.2 353.2,543.1 353.4,540.8 353.7,543.2 353.9,543.3 354.2,565.4 354.4,541.2 354.7,545.5 354.9,549.8 355.2,542.0 355.4,521.8 355.7,537.9 355.9,540.8 356.2,541.5 356.4,543.3 356.7,547.2 356.9,541.1 357.2,575.7 357.4,552.9 357.7,552.8 357.9,561.1 358.2,544.5 358.4,551.8 358.7,553.1 358.9,559.2 359.2,555.8 359.4,550.1 359.7,549.9 359.9,536.1 360.2,562.9 360.4,569.8 360.7,555.1 360.9,554.4 361.2,572.8 361.4,563.8 361.7,555.5 361.9,567.4 362.2,560.9 362.4,557.6 362.7,570.2 362.9,570.4 363.2,572.0 363.4,572.3 363.7,567.1 363.9,568.7 364.2,574.5 364.4,552.2 364.7,554.8 364.9,557.8 365.2,595.8 365.4,551.1 365.7,576.5 365.9,575.0 366.2,584.4 366.4,586.6 366.7,577.7 366.9,566.1 367.2,582.6 367.4,584.5 367.7,577.9 367.9,584.2 368.2,584.7 368.4,583.7 368.7,588.8 368.9,580.8 369.2,586.6 369.4,590.1 369.7,603.6 369.9,585.8 370.2,581.1 370.4,597.5 370.7,599.6 370.9,589.4 371.2,612.9 371.4,597.1 371.7,576.8 371.9,600.2 372.2,581.0 372.4,590.1 372.7,600.9 372.9,585.8 373.2,596.4 373.4,591.4 373.7,567.4 373.9,619.8 374.2,586.9 374.4,593.8 374.7,595.6 374.9,588.2 375.2,593.5 375.4,595.0 375.7,593.0 375.9,594.5 376.2,601.9 376.4,601.2 376.7,615.3 376.9,596.5 377.2,600.4 377.4,601.6 377.7,608.3 377.9,599.0 378.2,587.4 378.4,602.1 378.7,588.9 378.9,616.5 379.2,604.0 379.4,628.6 379.7,606.8 379.9,590.5 380.2,599.1 380.4,604.4 380.7,609.1 380.9,609.1 381.2,601.7 381.4,610.9 381.7,606.3 381.9,600.6 382.2,601.7 382.4,588.0 382.7,611.5 382.9,604.5 383.2,612.5 383.4,616.2 383.7,615.7 383.9,618.7 384.2,587.4 384.4,607.0 384.7,593.1 384.9,614.9 385.2,607.4 385.4,625.7 385.7,608.2 385.9,605.9 386.2,588.4 386.4,608.7 386.7,594.7 386.9,609.3 387.2,604.3 387.4,611.6 387.7,614.4 387.9,613.0 388.2,601.9 388.4,590.8 388.7,615.2 388.9,598.8 389.2,621.6 389.4,605.5 389.7,603.5 389.9,608.0 390.2,612.3 390.4,604.7 390.7,613.4 390.9,598.7 391.2,609.4 391.4,597.1 391.7,607.2 391.9,590.9 392.2,611.6 392.4,603.7 392.7,605.2 392.9,593.3 393.2,605.6 393.4,602.1 393.7,614.3 393.9,595.1 394.2,605.3 394.4,607.5 394.7,582.1 394.9,614.1 395.2,608.6 395.4,611.0 395.7,605.3 395.9,599.5 396.2,608.2 396.4,606.8 396.7,619.6 396.9,611.4 397.2,607.6 397.4,605.7 397.7,596.4 397.9,605.8 398.2,603.1 398.4,597.5 398.7,617.7 398.9,586.8 399.2,598.5 399.4,612.7 399.7,614.4 399.9,614.6 400.2,598.0 400.4,622.4 400.7,611.5 400.9,584.3 401.2,601.6 401.4,584.4 401.7,589.7 401.9,600.7 402.2,606.5 402.4,620.3 402.7,611.7 402.9,608.5 403.2,606.1 403.4,617.5 403.7,617.9 403.9,610.3 404.2,614.4 404.4,609.6 404.7,614.2 404.9,599.5 405.2,610.7 405.4,602.5 405.7,615.0 405.9,617.2 406.2,612.0 406.4,616.4 406.7,615.3 406.9,605.9 407.2,611.7 407.4,620.6 407.7,617.6 407.9,619.8 408.2,636.7 408.4,593.6 408.7,615.3 408.9,598.4 409.2,614.8 409.4,620.4 409.7,612.6 409.9,618.4 410.2,615.1 410.4,610.5 410.7,618.3 410.9,631.0 411.2,610.2 411.4,608.6 411.7,623.1 411.9,606.8 412.2,620.7 412.4,622.9 412.7,609.7 412.9,608.0 413.2,628.1 413.4,619.1 413.7,613.8 413.9,626.6 414.2,619.3 414.4,615.9 414.7,609.5 414.9,622.9 415.2,612.8 415.4,615.5 415.7,619.4 415.9,616.0 416.2,601.5 416.4,612.7 416.7,623.0 416.9,622.4 417.2,606.2 417.4,616.9 417.7,615.4 417.9,637.7 418.2,616.4 418.4,608.4 418.7,618.0 418.9,625.1 419.2,613.5 419.4,624.0 419.7,616.7 419.9,618.9 420.2,618.4 420.4,621.5 420.7,627.4 420.9,617.2 421.2,616.5 421.4,620.9 421.7,619.8 421.9,610.5 422.2,613.8 422.4,622.2 422.7,617.8 422.9,607.7 423.2,608.9 423.4,611.0 423.7,622.4 423.9,611.1 424.2,625.1 424.4,613.4 424.7,618.8 424.9,625.3 425.2,624.8 425.4,603.3 425.7,622.7 425.9,619.1 426.2,624.1 426.4,612.4 426.7,622.2 426.9,624.3 427.2,633.8 427.4,627.4 427.7,621.7 427.9,598.9 428.2,625.0 428.4,617.0 428.7,620.6 428.9,622.2 429.2,622.4 429.4,596.7 429.7,615.8 429.9,618.5 430.2,618.2 430.4,618.9 430.7,620.6 430.9,618.5 431.2,634.9 431.4,626.0 431.7,637.2 431.9,617.6 432.2,598.2 432.4,638.4 432.7,638.4 432.9,633.9 433.2,627.4 433.4,613.4 433.7,625.0 433.9,628.1 434.2,630.8 434.4,639.5 434.7,628.1 434.9,621.9 435.2,631.7 435.4,637.0 435.7,624.2 435.9,642.2 436.2,628.5 436.4,622.8 436.7,628.9 436.9,631.5 437.2,619.5 437.4,637.9 437.7,624.8 437.9,630.5 438.2,628.0 438.4,624.6 438.7,622.8 438.9,619.6 439.2,631.1 439.4,624.3 439.7,618.0 439.9,624.6 440.2,617.7 440.4,621.9 440.7,633.0 440.9,631.8 441.2,625.1 441.4,629.0 441.7,634.0 441.9,634.1 442.2,603.2 442.4,615.9 442.7,626.3 442.9,627.7 443.2,633.0 443.4,629.0 443.7,629.4 443.9,628.7 444.2,637.0 444.4,627.6 444.7,623.6 444.9,635.8 445.2,632.3 445.4,623.7 445.7,624.8 445.9,628.9 446.2,630.5 446.4,628.2 446.7,625.8 446.9,625.6 447.2,625.9 447.4,627.1 447.7,618.5 447.9,623.0 448.2,635.0 448.4,628.5 448.7,630.8 448.9,624.1 449.2,633.8 449.4,633.2 449.7,624.5 449.9,615.2 450.2,637.3 450.4,634.7 450.7,630.7 450.9,620.2 451.2,653.7 451.4,633.7 451.7,648.9 451.9,627.2 452.2,638.2 452.4,621.2 452.7,635.0 452.9,627.0 453.2,644.6 453.4,637.1 453.7,620.8 453.9,627.8 454.2,633.5 454.4,633.3 454.7,640.7 454.9,630.4 455.2,632.3 455.4,609.4 455.7,625.5 455.9,635.7 456.2,629.8 456.4,635.8 456.7,627.4 456.9,640.0 457.2,635.2 457.4,637.1 457.7,634.6 457.9,632.9 458.2,640.3 458.4,641.9 458.7,630.8 458.9,640.0 459.2,628.6 459.4,648.8 459.7,625.1 459.9,626.6 460.2,631.7 460.4,637.7 460.7,636.7 460.9,632.6 461.2,636.6 461.4,626.4 461.7,659.2 461.9,632.6 462.2,637.4 462.4,649.9 462.7,631.2 462.9,635.5 463.2,625.4 463.4,634.1 463.7,642.7 463.9,633.3 464.2,642.0 464.4,640.1 464.7,635.4 464.9,633.3 465.2,630.5 465.4,632.4 465.7,636.6 465.9,642.8 466.2,635.7 466.4,643.7 466.7,643.7 466.9,637.6 467.2,628.9 467.4,645.2 467.7,633.1 467.9,646.6 468.2,642.9 468.4,653.5 468.7,627.0 468.9,662.3 469.2,646.5 469.4,634.4 469.7,643.0 469.9,633.7 470.2,630.3 470.4,635.6 470.7,623.8 470.9,651.0 471.2,627.4 471.4,647.5 471.7,635.5 471.9,642.3 472.2,641.7 472.4,637.0 472.7,647.8 472.9,635.6 473.2,643.5 473.4,638.2 473.7,640.3 473.9,663.8 474.2,644.1 474.4,641.2 474.7,637.3 474.9,639.7 475.2,628.0 475.4,621.3 475.7,641.4 475.9,642.6 476.2,632.0 476.4,654.0 476.7,643.7 476.9,641.8 477.2,643.3 477.4,649.4 477.7,639.1 477.9,649.2 478.2,632.0 478.4,618.1 478.7,665.0 478.9,643.6 479.2,635.3 479.4,638.4 479.7,641.4 479.9,665.3 480.2,646.7 480.4,644.5 480.7,641.5 480.9,647.3 481.2,648.5 481.4,629.2 481.7,640.0 481.9,637.9 482.2,644.3 482.4,641.6 482.7,628.5 482.9,656.4 483.2,666.2 483.4,647.6 483.7,645.2 483.9,648.9 484.2,650.4 484.4,649.2 484.7,633.0 484.9,652.6 485.2,641.1 485.4,641.5 485.7,642.5 485.9,629.9 486.2,642.1 486.4,642.1 486.7,635.2 486.9,638.0 487.2,644.3 487.4,635.6 487.7,639.2 487.9,647.4 488.2,666.4 488.4,638.7 488.7,653.6 488.9,667.7 489.2,652.9 489.4,644.8 489.7,644.8 489.9,641.2 490.2,652.6 490.4,648.1 490.7,651.8 490.9,651.8 491.2,641.3 491.4,641.0 491.7,668.3 491.9,641.3 492.2,647.2 492.4,647.1 492.7,639.7 492.9,647.0 493.2,644.5 493.4,643.9 493.7,640.1 493.9,656.2 494.2,644.8 494.4,651.1 494.7,649.1 494.9,642.4 495.2,646.7 495.4,642.1 495.7,639.1 495.9,642.4 496.2,643.6 496.4,645.2 496.7,645.4 496.9,656.4 497.2,655.3 497.4,641.0 497.7,647.4 497.9,651.6 498.2,654.3 498.4,646.1 498.7,638.9 498.9,643.3 499.2,656.0 499.4,669.6 499.7,628.0 499.9,643.0 500.2,640.5 500.4,656.1 500.7,644.1 500.9,642.0 501.2,644.2 501.4,641.0 501.7,643.0 501.9,643.0 502.2,646.5 502.4,646.6 502.7,636.8 502.9,641.7 503.2,656.8 503.4,668.6 503.7,650.7 503.9,652.0 504.2,646.1 504.4,644.0 504.7,655.1 504.9,649.5 505.2,657.7 505.4,646.5 505.7,652.4 505.9,643.3 506.2,652.1 506.4,648.7 506.7,648.8 506.9,649.3 507.2,664.0 507.4,652.9 507.7,654.0 507.9,656.9 508.2,650.1 508.4,653.3 508.7,641.7 508.9,639.8 509.2,644.6 509.4,655.3 509.7,641.6 509.9,648.4 510.2,645.3 510.4,667.0 510.7,643.9 510.9,659.4 511.2,641.7 511.4,642.9 511.7,650.4 511.9,654.3 512.2,638.2 512.5,663.7 512.7,643.0 513.0,649.7 513.2,640.5 513.5,660.0 513.7,656.9 514.0,646.0 514.2,641.0 514.5,649.7 514.7,647.5 515.0,648.1 515.2,645.0 515.5,649.6 515.7,644.9 516.0,669.2 516.2,657.3 516.5,635.0 516.7,650.0 517.0,645.5 517.2,643.9 517.5,652.9 517.7,645.1 518.0,646.5 518.2,627.8 518.5,656.2 518.7,649.9 519.0,622.9 519.2,649.6 519.5,646.0 519.7,653.6 520.0,640.6 520.2,662.2 520.5,644.2 520.7,627.3 521.0,647.4 521.2,647.3 521.5,629.0 521.7,648.4 522.0,646.9 522.2,652.9 522.5,647.4 522.7,627.1 523.0,640.4 523.2,641.3 523.5,644.8 523.7,637.3 524.0,644.8 524.2,642.4 524.5,643.4 524.7,628.7 525.0,632.8 525.2,645.9 525.5,640.8 525.7,654.8 526.0,631.3 526.2,629.5 526.5,655.0 526.7,653.3 527.0,646.1 527.2,624.6 527.5,639.6 527.7,645.7 528.0,643.1 528.2,642.2 528.5,642.8 528.7,641.1 529.0,640.2 529.2,642.8 529.5,641.5 529.7,649.5 530.0,638.5 530.2,655.1 530.5,643.6 530.7,641.7 531.0,642.8 531.2,645.8 531.5,640.5 531.7,638.6 532.0,648.5 532.2,643.7 532.5,639.2 532.7,645.4 533.0,662.9 533.2,645.3 533.5,641.3 533.7,630.6 534.0,641.7 534.2,638.1 534.5,633.2 534.7,626.2 535.0,638.2 535.2,631.4 535.5,631.7 535.7,636.3 536.0,645.4 536.2,639.7 536.5,630.2 536.7,637.5 537.0,646.0 537.2,634.0 537.5,640.1 537.7,642.5 538.0,636.1 538.2,629.3 538.5,629.9 538.7,637.8 539.0,631.9 539.2,643.4 539.5,632.9 539.7,638.0 540.0,632.9 540.2,639.1 540.5,621.8 540.7,643.4 541.0,633.9 541.2,637.4 541.5,632.4 541.7,636.6 542.0,621.0 542.2,622.9 542.5,628.2 542.7,631.1 543.0,640.1 543.2,634.4 543.5,632.3 543.7,636.8 544.0,627.2 544.2,629.8 544.5,639.1 544.7,635.1 545.0,638.8 545.2,644.9 545.5,633.3 545.7,628.9 546.0,633.0 546.2,639.1 546.5,631.3 546.7,631.3 547.0,646.3 547.2,633.3 547.5,631.9 547.7,636.9 548.0,630.8 548.2,634.8 548.5,633.6 548.7,632.8 549.0,634.3 549.2,627.5 549.5,631.8 549.7,631.7 550.0,631.9 550.2,625.4 550.5,634.2 550.7,628.0 551.0,623.8 551.2,616.8 551.5,623.5 551.7,639.7 552.0,628.7 552.2,621.8 552.5,637.6 552.7,631.4 553.0,637.8 553.2,624.3 553.5,632.2 553.7,625.3 554.0,639.4 554.2,630.1 554.5,633.9 554.7,621.3 555.0,639.5 555.2,610.4 555.5,637.9 555.7,627.5 556.0,630.4 556.2,628.4 556.5,626.8 556.7,637.6 557.0,625.3 557.2,623.0 557.5,635.3 557.7,615.5 558.0,624.6 558.2,639.2 558.5,625.2 558.7,624.1 559.0,631.1 559.2,629.5 559.5,633.8 559.7,626.9 560.0,630.6 560.2,628.7 560.5,626.8 560.7,625.7 561.0,615.2 561.2,630.9 561.5,633.5 561.7,635.5 562.0,624.0 562.2,617.7 562.5,606.0 562.7,614.0 563.0,628.2 563.2,628.4 563.5,628.9 563.7,621.5 564.0,628.4 564.2,615.9 564.5,621.2 564.7,624.1 565.0,631.3 565.2,633.9 565.5,629.2 565.7,630.1 566.0,622.4 566.2,632.6 566.5,624.1 566.7,629.1 567.0,621.5 567.2,632.9 567.5,628.8 567.7,625.9 568.0,637.9 568.2,638.9 568.5,627.0 568.7,625.6 569.0,626.2 569.2,631.9 569.5,631.8 569.7,631.7 570.0,632.4 570.2,631.2 570.5,627.5 570.7,621.3 571.0,628.9 571.2,620.2 571.5,643.0 571.7,647.1 572.0,617.7 572.2,631.0 572.5,633.7 572.7,636.6 573.0,634.0 573.2,627.9 573.5,622.8 573.7,623.4 574.0,630.9 574.2,624.7 574.5,625.4 574.7,627.7 575.0,644.6 575.2,625.7 575.5,631.4 575.7,629.7 576.0,619.7 576.2,628.6 576.5,643.3 576.7,631.1 577.0,635.6 577.2,631.3 577.5,636.4 577.7,627.4 578.0,643.0 578.2,649.9 578.5,630.3 578.7,624.2 579.0,627.5 579.2,632.5 579.5,629.0 579.7,636.3 580.0,632.1 580.2,622.3 580.5,632.7 580.7,647.3 581.0,627.9 581.2,623.1 581.5,620.4 581.7,634.8 582.0,642.6 582.2,634.9 582.5,638.4 582.7,640.2 583.0,630.7 583.2,634.5 583.5,641.7 583.7,633.6 584.0,613.1 584.2,622.2 584.5,620.3 584.7,630.1 585.0,637.8 585.2,639.6 585.5,629.8 585.7,629.6 586.0,624.0 586.2,632.7 586.5,630.1 586.7,620.3 587.0,625.8 587.2,624.2 587.5,637.8 587.7,630.5 588.0,636.0 588.2,614.8 588.5,628.8 588.7,630.6 589.0,633.6 589.2,617.5 589.5,638.3 589.7,629.3 590.0,625.6 590.2,641.7 590.5,636.2 590.7,629.2 591.0,635.3 591.2,627.9 591.5,634.1 591.7,626.5 592.0,642.7 592.2,642.8 592.5,628.6 592.7,636.0 593.0,626.4 593.2,653.8 593.5,634.9 593.7,633.7 594.0,632.4 594.2,631.3 594.5,625.3 594.7,640.7 595.0,652.2 595.2,631.5 595.5,634.6 595.7,645.8 596.0,631.8 596.2,629.4 596.5,629.6 596.7,632.0 597.0,640.7 597.2,627.3 597.5,654.5 597.7,614.6 598.0,637.1 598.2,631.4 598.5,628.4 598.7,634.2 599.0,635.3 599.2,629.1 599.5,639.5 599.7,632.4 600.0,630.9 600.2,631.8 600.5,648.3 600.7,654.2 601.0,635.5 601.2,635.3 601.5,629.9 601.7,623.6 602.0,626.3 602.2,632.1 602.5,622.8 602.7,629.6 603.0,639.1 603.2,635.8 603.5,642.8 603.7,631.0 604.0,621.5 604.2,615.5 604.5,631.4 604.7,638.0 605.0,635.1 605.2,641.2 605.5,621.4 605.7,631.8 606.0,638.8 606.2,637.0 606.5,632.7 606.7,652.4 607.0,634.0 607.2,650.1 607.5,639.4 607.7,647.2 608.0,645.9 608.2,637.7 608.5,645.1 608.7,636.2 609.0,638.7 609.2,636.1 609.5,633.0 609.7,634.9 610.0,635.8 610.2,642.8 610.5,633.7 610.7,639.9 611.0,616.9 611.2,629.1 611.5,641.9 611.7,621.1 612.0,635.2 612.2,638.8 612.5,632.9 612.7,623.6 613.0,633.1 613.2,632.7 613.5,636.7 613.7,636.2 614.0,633.6 614.2,617.8 614.5,631.8 614.7,629.1 615.0,633.1 615.2,652.9 615.5,628.0 615.7,634.7 616.0,632.5 616.2,631.9 616.5,644.8 616.7,637.0 617.0,630.5 617.2,634.5 617.5,632.4 617.7,638.6 618.0,633.8 618.2,635.9 618.5,639.4 618.7,629.1 619.0,649.3 619.2,633.6 619.5,639.1 619.7,643.6 620.0,637.6 620.2,637.6 620.5,642.9 620.7,638.8 621.0,629.0 621.2,642.3 621.5,636.7 621.7,634.8 622.0,629.9 622.2,635.6 622.5,635.6 622.7,644.3 623.0,631.5 623.2,640.5 623.5,643.4 623.7,635.7 624.0,642.0 624.2,623.5 624.5,638.9 624.7,639.3 625.0,629.1 625.2,636.5 625.5,627.7 625.7,634.5 626.0,637.0 626.2,633.0 626.5,646.3 626.7,633.0 627.0,641.8 627.2,633.0 627.5,641.7 627.7,637.8 628.0,648.8 628.2,638.4 628.5,634.9 628.7,642.1 629.0,634.3 629.2,633.8 629.5,635.2 629.7,647.3 630.0,622.3 630.2,643.6 630.5,637.3 630.7,643.1 631.0,638.7 631.2,635.8 631.5,640.2 631.7,621.7 632.0,638.4 632.2,640.4 632.5,637.1 632.7,644.6 633.0,647.4 633.2,634.3 633.5,644.6 633.7,643.4 634.0,627.4 634.2,639.9 634.5,649.1 634.7,648.3 635.0,644.5 635.2,638.8 635.5,635.6 635.7,640.3 636.0,638.5 636.2,631.3 636.5,640.4 636.7,640.1 637.0,632.6 637.2,633.0 637.5,640.7 637.7,637.3 638.0,635.2 638.2,638.0 638.5,644.8 638.7,644.7 639.0,642.3 639.2,639.7 639.5,638.1 639.7,646.6 640.0,649.2 640.2,642.1 640.5,625.3 640.7,637.9 641.0,635.9 641.2,653.3 641.5,637.6 641.7,636.6 642.0,640.1 642.2,649.1 642.5,642.4 642.7,641.6 643.0,635.6 643.2,636.3 643.5,631.5 643.7,642.0 644.0,640.3 644.2,634.9 644.5,650.1 644.7,639.5 645.0,627.5 645.2,641.1 645.5,649.2 645.7,650.7 646.0,638.8 646.2,646.6 646.5,637.2 646.7,638.3 647.0,642.3 647.2,628.8 647.5,639.7 647.7,634.6 648.0,638.2 648.2,633.6 648.5,629.6 648.7,632.0 649.0,636.6 649.2,644.1 649.5,639.7 649.7,633.9 650.0,635.9 650.2,647.7 650.5,642.0 650.7,642.8 651.0,634.6 651.2,654.5 651.5,647.9 651.7,645.9 652.0,631.0 652.2,648.4 652.5,642.4 652.7,640.4 653.0,643.6 653.2,641.9 653.5,645.9 653.7,643.1 654.0,640.0 654.2,647.7 654.5,646.1 654.7,646.1 655.0,636.7 655.2,647.9 655.5,643.0 655.7,642.6 656.0,643.8 656.2,639.5 656.5,640.8 656.7,644.4 657.0,639.4 657.2,637.5 657.5,645.0 657.7,642.9 658.0,641.8 658.2,641.0 658.5,644.7 658.7,645.7 659.0,640.8 659.2,641.6 659.5,641.2 659.7,636.5 660.0,660.3 660.2,641.1 660.5,655.4 660.7,642.4 661.0,644.3 661.2,643.0 661.5,639.5 661.7,648.4 662.0,644.7 662.2,641.8 662.5,633.2 662.7,651.7 663.0,644.7 663.2,645.7 663.5,645.6 663.7,640.1 664.0,644.3 664.2,644.6 664.5,643.7 664.7,644.2 665.0,641.8 665.2,643.3 665.5,645.2 665.7,647.4 666.0,645.0 666.2,629.9 666.5,640.5 666.7,640.3 667.0,646.9 667.2,643.8 667.5,649.4 667.7,648.7 668.0,646.5 668.2,637.0 668.5,637.7 668.7,639.1 669.0,637.7 669.2,642.9 669.5,641.7 669.7,640.4 670.0,645.3 670.2,636.8 670.5,641.0 670.7,643.3 671.0,659.5 671.2,641.6 671.5,652.4 671.7,642.7 672.0,643.7 672.2,635.5 672.5,641.8 672.7,646.4 673.0,634.5 673.2,649.0 673.5,643.4 673.7,645.9 674.0,648.7 674.2,649.6 674.5,658.8 674.7,638.2 675.0,646.3 675.2,640.1 675.5,646.2 675.7,638.6 676.0,628.6 676.2,647.5 676.5,647.6 676.7,647.9 677.0,645.6 677.2,647.4 677.5,644.9 677.7,642.5 678.0,636.8 678.2,628.5 678.5,637.3 678.7,642.7 679.0,634.1 679.2,645.3 679.5,647.1 679.7,636.2 680.0,638.6 680.2,633.1 680.5,650.1 680.7,630.4 681.0,633.3 681.2,646.9 681.5,656.2 681.7,644.0 682.0,648.3 682.2,641.6 682.5,647.8 682.7,643.2 683.0,647.2 683.2,648.2 683.5,639.5 683.7,635.8 684.0,645.2 684.2,636.5 684.5,644.0 684.7,652.6 685.0,639.9 685.2,638.6 685.5,643.4 685.7,642.8 686.0,640.4 686.2,645.7 686.5,649.6 686.7,643.8 687.0,643.0 687.2,642.3 687.5,645.6 687.7,655.6 688.0,637.9 688.2,644.9 688.5,633.3 688.7,645.6 689.0,649.9 689.2,643.7 689.5,652.1 689.7,643.4 690.0,642.8 690.2,643.5 690.5,644.5 690.7,633.6 691.0,647.6 691.2,647.1 691.5,637.3 691.7,654.0 692.0,637.1 692.2,641.8 692.5,641.0 692.7,646.6 693.0,646.2 693.2,647.5 693.5,651.1 693.7,647.6 694.0,651.0 694.2,645.5 694.5,640.0 694.7,642.7 695.0,647.2 695.2,662.9 695.5,653.8 695.7,644.9 696.0,645.1 696.2,639.1 696.5,644.6 696.7,641.6 697.0,628.1 697.2,652.4 697.5,641.0 697.7,646.1 698.0,640.5 698.2,639.2 698.5,648.6 698.7,649.6 699.0,645.4 699.2,638.9 699.5,645.6 699.7,646.7 700.0,648.0 700.2,648.8 700.5,653.5 700.7,648.6 701.0,636.1 701.2,648.3 701.5,645.6 701.7,652.5 702.0,647.7 702.2,642.9 702.5,634.1 702.7,644.1 703.0,638.6 703.2,651.8 703.5,642.3 703.7,647.0 704.0,644.0 704.2,648.6 704.5,641.6 704.7,644.3 705.0,641.1 705.2,644.5 705.5,644.1 705.7,639.3 706.0,643.5 706.2,647.4 706.5,644.8 706.7,649.9 707.0,645.5 707.2,635.7 707.5,636.4 707.7,640.1 708.0,643.7 708.2,636.4 708.5,640.7 708.7,638.9 709.0,642.3 709.2,660.0 709.5,644.7 709.7,644.7 710.0,645.5 710.2,643.6 710.5,642.8 710.7,644.6 711.0,644.8 711.2,640.8 711.5,642.5 711.7,632.2 712.0,647.1 712.2,643.0 712.5,647.9 712.7,648.6 713.0,642.5 713.2,644.8 713.5,648.3 713.7,646.8 714.0,647.4 714.2,646.6 714.5,642.5 714.7,647.2 715.0,652.7 715.2,647.3 715.5,645.8 715.7,639.6 716.0,641.0 716.2,660.8 716.5,642.8 716.7,641.1 717.0,655.1 717.2,647.7 717.5,643.8 717.7,644.2 718.0,641.2 718.2,643.4 718.5,638.4 718.7,634.6 719.0,643.7 719.2,649.1 719.5,643.8 719.7,647.0 720.0,640.2 720.2,649.4 720.5,640.2 720.7,636.6 721.0,648.1 721.2,648.2 721.5,642.5 721.7,634.1 722.0,636.2 722.2,640.7 722.5,645.2 722.7,645.7 723.0,644.4 723.2,648.5 723.5,644.7 723.7,644.0 724.0,642.8 724.2,641.1 724.5,635.8 724.7,648.3 725.0,647.5 725.2,642.5 725.5,647.9 725.7,628.8 726.0,636.8 726.2,646.5 726.5,642.1 726.7,646.3 727.0,643.5 727.2,643.1 727.5,637.9 727.7,643.6 728.0,645.9 728.2,641.1 728.5,642.0 728.7,639.6 729.0,645.3 729.2,643.3 729.5,639.9 729.7,636.8 730.0,646.5 730.2,639.7 730.5,626.2 730.7,648.4 731.0,640.2 731.2,644.2 731.5,635.9 731.7,644.0 732.0,644.8 732.2,642.8 732.5,642.0 732.7,626.1 733.0,648.7 733.2,643.1 733.5,641.1 733.7,637.6 734.0,639.0 734.2,638.2 734.5,650.5 734.7,641.6 735.0,639.8 735.2,642.8 735.5,641.9 735.7,641.0 736.0,641.7 736.2,640.2 736.5,632.2 736.7,643.5 737.0,635.3 737.2,642.3 737.5,640.9 737.7,649.3 738.0,647.0 738.2,647.7 738.5,643.1 738.7,647.4 739.0,642.7 739.2,643.5 739.5,645.3 739.7,648.6 740.0,639.1 740.2,634.3 740.5,638.3 740.7,625.9 741.0,637.4 741.2,642.8 741.5,640.8 741.7,644.2 742.0,641.2 742.2,643.9 742.5,643.7 742.7,637.0 743.0,645.1 743.2,643.6 743.5,636.4 743.7,639.4 744.0,645.7 744.2,638.5 744.5,646.9 744.7,640.2 745.0,637.4 745.2,633.1 745.5,633.3 745.7,638.0 746.0,639.1 746.2,642.5 746.5,639.4 746.7,637.3 747.0,644.0 747.2,643.9 747.5,642.1 747.7,647.0 748.0,638.1 748.2,642.5 748.5,645.9 748.7,640.9 749.0,649.5 749.2,645.7 749.5,645.8 749.7,645.6 750.0,645.7 750.2,634.2 750.5,635.1 750.7,640.4 751.0,646.0 751.2,648.5 751.5,642.7 751.7,632.0 752.0,652.6 752.2,634.5 752.5,644.9 752.7,642.8 753.0,640.7 753.2,632.7 753.5,640.7 753.7,644.4 754.0,643.6 754.2,643.2 754.5,637.9 754.7,634.8 755.0,641.6 755.2,629.6 755.5,640.8 755.7,636.5 756.0,656.4 756.2,641.7 756.5,642.8 756.7,642.1 757.0,640.5 757.2,636.1 757.5,640.7 757.7,640.1 758.0,642.5 758.2,638.1 758.5,656.5 758.7,638.9 759.0,638.6 759.2,642.2 759.5,627.2 759.7,642.4 760.0,643.1 760.2,642.3 760.5,642.3 760.7,641.4 761.0,643.7 761.2,644.8 761.5,642.4 761.7,641.0 762.0,636.1 762.2,648.4 762.5,651.3 762.7,636.2 763.0,656.8 763.2,649.3 763.5,648.9 763.7,644.3 764.0,641.9 764.2,632.0 764.5,641.6 764.7,641.4 765.0,640.8 765.2,644.5 765.5,638.9 765.7,632.4 766.0,642.2 766.2,642.1 766.5,642.9 766.7,643.2 767.0,640.8 767.2,638.7 767.5,639.0 767.7,638.9 768.0,634.8 768.2,640.2 768.5,642.7 768.7,639.5 769.0,635.3 769.2,634.5 769.5,643.4 769.7,634.6 770.0,639.3 770.2,637.6 770.5,642.4 770.7,638.1 771.0,642.8 771.2,635.4 771.5,638.9 771.7,631.0 772.0,642.6 772.2,636.8 772.5,650.4 772.7,638.5 773.0,641.4 773.2,640.3 773.5,647.2 773.7,642.2 774.0,639.3 774.2,638.1 774.5,634.3 774.7,645.4 775.0,640.7 775.2,636.2 775.5,642.3 775.7,637.3 776.0,646.0 776.2,643.9 776.5,636.1 776.7,633.9 777.0,634.2 777.2,633.7 777.5,642.0 777.7,640.0 778.0,634.0 778.2,645.3 778.5,642.4 778.7,641.1 779.0,634.6 779.2,639.8 779.5,642.7 779.7,646.4 780.0,634.2 780.2,640.0 780.5,645.7 780.7,640.9 781.0,637.6 781.2,640.0 781.5,634.8 781.7,633.5 782.0,640.6 782.2,629.8 782.5,632.6 782.7,637.3 783.0,639.8 783.2,638.7 783.5,636.2 783.7,640.3 784.0,640.3 784.2,640.9 784.5,629.0 784.7,634.8 785.0,642.2 785.2,635.9 785.5,642.0 785.7,646.0 786.0,643.1 786.2,637.3 786.5,633.3 786.7,643.1 787.0,635.5 787.2,638.5 787.5,641.7 787.7,641.0 788.0,641.8 788.2,634.6 788.5,643.0 788.7,642.0 789.0,637.9 789.2,633.5 789.5,639.6 789.7,645.2 790.0,644.6 790.2,636.2 790.5,644.5 790.7,624.8 791.0,638.6 791.2,643.3 791.5,640.0 791.7,643.5 792.0,639.1 792.2,636.5 792.5,642.6 792.7,641.5 793.0,640.5 793.2,644.5 793.5,633.4 793.7,639.9 794.0,641.5 794.2,639.5 794.5,639.0 794.7,638.1 795.0,655.7 795.2,642.6 795.5,640.2 795.7,639.9 796.0,644.3 796.2,640.6 796.5,640.1 796.7,638.2 797.0,630.2 797.2,647.5 797.5,641.1 797.7,647.2 798.0,637.8 798.2,642.1 798.5,640.0 798.7,642.4 799.0,650.0 799.2,656.4 799.5,634.0 799.7,636.6 800.0,638.3 800.2,647.3 800.5,644.3 800.7,639.3 801.0,638.6 801.2,641.4 801.5,641.8 801.7,649.7 802.0,641.1 802.2,638.3 802.5,639.5 802.7,638.8 803.0,649.0 803.2,645.4 803.5,641.4 803.7,635.5 804.0,639.9 804.2,651.8 804.5,632.1 804.7,643.0 805.0,636.6 805.2,644.9 805.5,638.1 805.7,639.5 806.0,645.7 806.2,636.9 806.5,642.4 806.7,646.0 807.0,637.3 807.2,642.3 807.5,640.1 807.7,642.4 808.0,638.2 808.2,647.1 808.5,642.3 808.7,644.4 809.0,650.6 809.2,635.9 809.5,637.7 809.7,642.2 810.0,641.3 810.2,643.1 810.5,643.5 810.7,636.6 811.0,640.2 811.2,652.3 811.5,639.6 811.7,639.2 812.0,641.0 812.2,649.6 812.5,642.5 812.7,640.0 813.0,642.0 813.2,643.4 813.5,637.1 813.7,648.2 814.0,649.0 814.2,642.5 814.5,639.3 814.7,639.6 815.0,635.2 815.2,634.3 815.5,648.2 815.7,639.5 816.0,641.5 816.2,642.3 816.5,637.0 816.7,640.2 817.0,637.5 817.2,641.4 817.5,647.5 817.7,644.0 818.0,654.0 818.2,643.0 818.5,646.4 818.7,646.2 819.0,642.0 819.2,643.7 819.5,642.2 819.7,659.7 820.0,651.8 820.2,640.2 820.5,639.4 820.7,647.9 821.0,642.0 821.2,649.9 821.5,638.7 821.7,647.5 822.0,650.0 822.2,643.9 822.5,638.1 822.7,649.3 823.0,649.2 823.2,640.4 823.5,637.9 823.7,642.1 824.0,639.2 824.2,660.0 824.5,644.4 824.7,640.1 825.0,644.5 825.2,649.5 825.5,641.2 825.7,647.4 826.0,637.9 826.2,642.0 826.5,646.6 826.7,643.7 827.0,629.0 827.2,647.6 827.5,646.5 827.7,640.5 828.0,647.1 828.2,645.8 828.5,647.5 828.7,646.4 829.0,634.9 829.2,645.9 829.5,636.0 829.7,642.4 830.0,648.6 830.2,642.1 830.5,640.4 830.7,641.5 831.0,644.9 831.2,645.5 831.5,655.3 831.7,649.6 832.0,636.1 832.2,644.4 832.5,646.6 832.7,636.1 833.0,641.0 833.2,643.0 833.5,649.1 833.7,649.0 834.0,653.8 834.2,647.1 834.5,643.9 834.7,650.4 835.0,660.5 835.2,643.7 835.5,643.8 835.7,629.4 836.0,645.0 836.2,648.4 836.5,641.3 836.7,643.6 837.0,645.1 837.2,646.1 837.5,642.5 837.7,647.2 838.0,651.2 838.2,644.5 838.5,640.1 838.7,645.6 839.0,647.0 839.2,643.9 839.5,648.3 839.7,648.6 840.0,646.6 840.2,647.5 840.5,645.1 840.7,643.8 841.0,647.9 841.2,642.5 841.5,644.1 841.7,642.5 842.0,638.9 842.2,652.4 842.5,641.8 842.7,649.2 843.0,643.3 843.2,639.1 843.5,652.9 843.7,645.6 844.0,645.5 844.2,644.1 844.5,644.0 844.7,641.3 845.0,648.2 845.2,647.7 845.5,633.1 845.7,640.3 846.0,640.5 846.2,644.3 846.5,640.0 846.7,649.8 847.0,642.8 847.2,642.1 847.5,647.5 847.7,637.9 848.0,648.8 848.2,657.6 848.5,646.3 848.7,648.3 849.0,651.9 849.2,649.9 849.5,654.3 849.7,644.6 850.0,648.9 850.2,646.1 850.5,646.5 850.7,642.5 851.0,643.9 851.2,644.4 851.5,641.6 851.7,640.9 852.0,644.8 852.2,646.6 852.5,646.3 852.7,648.3 853.0,643.8 853.2,652.0 853.5,651.3 853.7,642.6 854.0,648.5 854.2,646.3 854.5,643.2 854.7,632.9 855.0,645.1 855.2,642.1 855.5,648.0 855.7,645.3 856.0,646.1 856.2,642.1 856.5,656.4 856.7,635.8 857.0,642.3 857.2,654.2 857.5,647.0 857.7,647.7 858.0,648.7 858.2,648.0 858.5,648.6 858.7,650.6 859.0,647.0 859.2,641.4 859.5,658.5 859.7,638.9 860.0,648.6 860.2,645.0 860.5,647.8 860.7,638.3 861.0,644.3 861.2,644.9 861.5,643.0 861.7,644.5 862.0,648.9 862.2,642.0 862.5,651.1 862.7,640.6 863.0,643.7 863.2,645.1 863.5,650.7 863.7,653.4 864.0,648.5 864.2,647.4 864.5,643.3 864.7,649.0 865.0,640.1 865.2,645.3 865.5,643.8 865.7,647.1 866.0,640.7 866.2,644.1 866.5,640.6 866.7,652.2 867.0,646.1 867.2,651.4 867.5,646.2 867.7,646.6 868.0,650.1 868.2,645.8 868.5,648.1 868.7,650.3 869.0,636.5 869.2,632.9 869.5,662.2 869.7,648.3 870.0,648.3 870.2,655.8 870.5,646.9 870.7,646.6 871.0,645.5 871.2,656.8 871.5,646.8 871.7,647.1 872.0,656.9 872.2,646.8 872.5,652.4 872.7,649.5 873.0,643.5 873.2,650.2 873.5,641.4 873.7,649.3 874.0,648.6 874.2,644.2 874.5,647.1 874.7,654.3 875.0,651.8 875.2,648.7 875.5,648.3 875.7,637.5 876.0,644.2 876.2,648.4 876.5,649.8 876.7,646.1 877.0,637.5 877.2,644.4 877.5,641.1 877.7,654.1 878.0,650.9 878.2,640.7 878.5,647.7 878.7,646.3 879.0,641.8 879.2,652.5 879.5,652.1 879.7,653.6 880.0,650.8 880.2,662.3 880.5,632.7 880.7,644.1 881.0,641.9 881.2,651.1 881.5,644.4 881.7,649.5 882.0,649.3 882.2,648.6 882.5,650.8 882.7,636.6 883.0,647.6 883.2,645.9 883.5,649.3 883.7,649.9 884.0,648.7 884.2,638.7 884.5,647.7 884.7,641.9 885.0,643.5 885.2,645.4 885.5,649.6 885.7,652.9 886.0,652.0 886.2,645.6 886.5,651.9 886.7,647.7 887.0,644.3 887.2,646.0 887.5,639.8 887.7,641.6 888.0,631.1 888.2,635.7 888.5,641.8 888.7,661.7 889.0,661.7 889.2,647.9 889.5,644.5 889.7,646.2 890.0,643.7 890.2,650.4 890.5,642.7 890.7,642.4 891.0,649.0 891.2,641.7 891.5,644.5 891.7,648.0 892.0,647.1 892.2,651.0 892.5,639.5 892.7,645.1 893.0,643.2 893.2,645.5 893.5,661.2 893.7,639.4 894.0,653.5 894.2,630.5 894.5,644.3 894.7,649.7 895.0,656.3 895.2,647.4 895.5,643.5 895.7,637.1 896.0,645.5 896.2,640.4 896.5,650.2 896.7,643.8 897.0,642.8 897.2,647.1 897.5,647.2 897.7,647.7 898.0,641.1 898.2,638.4 898.5,655.7 898.7,642.1 899.0,646.9 899.2,648.1 899.5,644.6 899.7,653.7 900.0,653.7 900.2,643.2 900.5,644.9 900.7,648.4 901.0,647.0 901.2,643.3 901.5,647.1 901.7,647.9 902.0,646.3 902.2,637.2 902.5,645.8 902.7,647.4 903.0,641.2 903.2,653.2 903.5,644.3 903.7,648.7 904.0,647.2 904.2,645.6 904.5,647.0 904.7,644.3 905.0,640.8 905.2,643.9 905.5,644.3 905.7,649.5 906.0,638.1 906.2,640.7 906.5,642.1 906.7,646.9 907.0,644.2 907.2,641.6 907.5,640.4 907.7,646.1 908.0,642.4 908.2,644.1 908.5,640.6 908.7,652.6 909.0,644.6 909.2,636.0 909.5,647.4 909.7,648.5 910.0,642.4 910.2,646.9 910.5,634.4 910.7,639.0 911.0,635.0 911.2,637.6 911.5,632.0 911.7,648.3 912.0,658.2 912.2,643.6 912.5,643.5 912.7,647.0 913.0,641.3 913.2,645.7 913.5,654.3 913.7,645.9 914.0,645.0 914.2,646.6 914.5,640.9 914.7,653.2 915.0,641.9 915.2,646.5 915.5,643.3 915.7,644.3 916.0,649.0 916.2,645.1 916.5,631.9 916.7,646.9 917.0,642.8 917.2,646.7 917.5,641.5 917.7,649.9 918.0,642.5 918.2,646.4 918.5,640.5 918.7,637.1 919.0,644.0 919.2,647.4 919.5,642.3 919.7,645.7 920.0,645.1 920.2,644.5 920.5,642.1 920.7,655.3 921.0,644.5 921.2,646.0 921.5,653.0 921.7,645.3 922.0,652.6 922.2,642.9 922.5,652.8 922.7,651.5 923.0,638.6 923.2,643.0 923.5,649.7 923.7,647.3 924.0,652.8 924.2,647.7 924.5,646.7 924.7,644.1 925.0,646.5 925.2,639.8 925.5,642.5 925.7,641.3 926.0,646.9 926.2,645.8 926.5,649.7 926.7,656.3 927.0,644.0 927.2,645.1 927.5,648.0 927.7,635.0 928.0,638.8 928.2,644.8 928.5,651.7 928.7,654.1 929.0,651.0 929.2,643.0 929.5,661.8 929.7,646.3 930.0,645.3 930.2,642.4 930.5,650.7 930.7,655.9 931.0,643.8 931.2,645.9 931.5,647.9 931.7,648.9 932.0,644.3 932.2,638.6 932.5,647.2 932.7,645.3 933.0,643.4 933.2,643.7 933.5,646.3 933.7,652.5 934.0,647.8 934.2,641.0 934.5,634.8 934.7,643.6 935.0,642.7 935.2,647.2 935.5,645.7 935.7,646.2 936.0,655.9 936.2,642.3 936.5,654.7 936.7,647.2 937.0,642.4 937.2,645.3 937.5,649.6 937.7,648.4 938.0,650.1 938.2,651.1 938.5,645.2 938.7,641.3 939.0,656.9 939.2,645.1 939.5,651.6 939.7,649.1 940.0,646.3 940.2,646.6 940.5,646.6 940.7,643.2 941.0,651.1 941.2,638.0 941.5,642.5 941.7,655.7 942.0,648.9 942.2,646.9 942.5,650.7 942.7,646.1 943.0,649.9 943.2,638.4 943.5,644.5 943.7,644.8 944.0,646.4 944.2,645.3 944.5,648.3 944.7,644.2 945.0,655.3 945.2,647.2 945.5,632.1 945.7,651.2 946.0,653.0 946.2,649.1 946.5,650.0 946.7,647.3 947.0,643.8 947.2,652.1 947.5,662.7 947.7,649.3 948.0,648.9 948.2,656.5 948.5,643.5 948.7,643.0 949.0,645.5 949.2,632.3 949.5,648.7 949.7,641.7 950.0,662.8 950.2,641.6 950.5,640.7 950.7,653.3 951.0,639.3 951.2,653.1 951.5,643.4 951.7,644.5 952.0,649.4 952.2,649.4 952.5,647.8 952.7,634.3 953.0,644.9 953.2,648.7 953.5,649.6 953.7,650.3 954.0,644.3 954.2,644.7 954.5,648.9 954.7,641.6 955.0,649.9 955.2,641.1 955.5,646.9 955.7,641.5 956.0,648.4 956.2,649.2 956.5,652.2 956.7,652.6 957.0,649.3 957.2,654.7 957.5,652.0 957.7,654.9 958.0,645.9 958.2,646.4 958.5,651.2 958.7,645.9 959.0,649.3 959.2,646.9 959.5,641.0 959.7,650.7 960.0,632.6 960.2,653.3 960.5,657.6 960.7,647.2 961.0,649.4 961.2,647.9 961.5,648.2 961.7,651.7 962.0,655.1 962.2,642.6 962.5,642.3 962.7,645.0 963.0,652.5 963.2,650.6 963.5,654.5 963.7,651.2 964.0,652.7 964.2,647.3 964.5,650.7 964.7,644.7 965.0,651.0 965.2,651.7 965.5,656.7 965.7,648.7 966.0,645.0 966.2,649.9 966.5,645.6 966.7,660.0 967.0,645.6 967.2,645.2 967.5,637.7 967.7,642.4 968.0,647.3 968.2,649.0 968.5,646.1 968.7,650.3 969.0,648.2 969.2,652.3 969.5,648.2 969.7,644.5 970.0,644.8 970.2,649.9 970.5,654.2 970.7,645.3 971.0,645.1 971.2,639.5 971.5,648.1 971.7,649.8 972.0,652.8 972.2,637.2 972.5,642.1 972.7,643.7 973.0,651.0 973.2,649.8 973.5,653.7 973.7,654.1 974.0,645.5 974.2,642.3 974.5,648.1 974.7,645.4 975.0,650.3 975.2,651.0 975.5,648.2 975.7,649.9 976.0,643.7 976.2,643.7 976.5,648.2 976.7,653.9 977.0,650.4 977.2,651.8 977.5,645.7 977.7,645.3 978.0,648.7 978.2,644.6 978.5,647.6 978.7,643.2 979.0,647.8 979.2,644.0 979.5,642.0 979.7,654.4 980.0,644.2 980.2,641.0 980.5,647.8 980.7,641.6 981.0,649.7 981.2,648.0 981.5,644.3 981.7,646.6 982.0,651.0 982.2,648.1 982.5,647.7 982.7,644.5 983.0,646.9 983.2,632.4 983.5,650.2 983.7,648.1 984.0,645.3 984.2,645.2 984.5,661.7 984.7,657.7 985.0,648.6 985.2,644.8 985.5,653.0 985.7,651.0 986.0,650.5 986.2,647.3 986.5,640.4 986.7,650.4 987.0,644.3 987.2,648.1 987.5,646.7 987.7,657.5 988.0,643.8 988.2,641.3 988.5,645.3 988.7,645.1 989.0,646.5 989.2,652.7 989.5,646.3 989.7,644.5 990.0,649.6 990.2,649.5 990.5,645.3 990.7,662.4 991.0,646.5 991.2,648.9 991.5,650.0 991.7,647.8 992.0,645.0 992.2,647.3 992.5,646.5 992.7,636.6 993.0,647.2 993.2,651.9 993.5,639.6 993.7,651.1 994.0,646.2" fill="none" stroke="#1a1a1a" stroke-width="1.2" stroke-linejoin="round"/>
<rect x="89.7" y="2.7" width="904.80" height="727.30" fill="none" stroke="#141414" stroke-width="2.8" stroke-linejoin="round"/>
<path d="M109.81,2.7v7.5M109.81,730.0v-7.5M150.02,2.7v7.5M150.02,730.0v-7.5M190.23,2.7v14M190.23,730.0v-14M230.45,2.7v7.5M230.45,730.0v-7.5M270.66,2.7v7.5M270.66,730.0v-7.5M310.87,2.7v7.5M310.87,730.0v-7.5M351.09,2.7v7.5M351.09,730.0v-7.5M391.30,2.7v14M391.30,730.0v-14M431.51,2.7v7.5M431.51,730.0v-7.5M471.73,2.7v7.5M471.73,730.0v-7.5M511.94,2.7v7.5M511.94,730.0v-7.5M552.15,2.7v7.5M552.15,730.0v-7.5M592.37,2.7v14M592.37,730.0v-14M632.58,2.7v7.5M632.58,730.0v-7.5M672.79,2.7v7.5M672.79,730.0v-7.5M713.01,2.7v7.5M713.01,730.0v-7.5M753.22,2.7v7.5M753.22,730.0v-7.5M793.43,2.7v14M793.43,730.0v-14M833.65,2.7v7.5M833.65,730.0v-7.5M873.86,2.7v7.5M873.86,730.0v-7.5M914.07,2.7v7.5M914.07,730.0v-7.5M954.29,2.7v7.5M954.29,730.0v-7.5M89.7,51.19h7.5M994.5,51.19h-7.5M89.7,99.67h14.5M994.5,99.67h-14.5M89.7,148.16h7.5M994.5,148.16h-7.5M89.7,196.65h14.5M994.5,196.65h-14.5M89.7,245.13h7.5M994.5,245.13h-7.5M89.7,293.62h14.5M994.5,293.62h-14.5M89.7,342.11h7.5M994.5,342.11h-7.5M89.7,390.59h14.5M994.5,390.59h-14.5M89.7,439.08h7.5M994.5,439.08h-7.5M89.7,487.57h14.5M994.5,487.57h-14.5M89.7,536.05h7.5M994.5,536.05h-7.5M89.7,584.54h14.5M994.5,584.54h-14.5M89.7,633.03h7.5M994.5,633.03h-7.5M89.7,681.51h14.5M994.5,681.51h-14.5" stroke="#141414" stroke-width="2.5" stroke-linecap="round" fill="none"/>
<polygon points="265.30,25.60 272.23,29.60 272.23,37.60 265.30,41.60 258.37,37.60 258.37,29.60" fill="#fff" stroke="#3a3a3a" stroke-width="1.2"/>
<polygon points="237.20,161.40 244.13,165.40 244.13,173.40 237.20,177.40 230.27,173.40 230.27,165.40" fill="#fff" stroke="#3a3a3a" stroke-width="1.2"/>
<polygon points="296.80,161.40 303.73,165.40 303.73,173.40 296.80,177.40 289.87,173.40 289.87,165.40" fill="#fff" stroke="#3a3a3a" stroke-width="1.2"/>
<polygon points="446.40,161.50 453.33,165.50 453.33,173.50 446.40,177.50 439.47,173.50 439.47,165.50" fill="#fff" stroke="#3a3a3a" stroke-width="1.2"/>
<polygon points="577.00,55.20 583.93,59.20 583.93,67.20 577.00,71.20 570.07,67.20 570.07,59.20" fill="#fff" stroke="#3a3a3a" stroke-width="1.2"/>
<polygon points="647.80,65.80 654.73,69.80 654.73,77.80 647.80,81.80 640.87,77.80 640.87,69.80" fill="#fff" stroke="#3a3a3a" stroke-width="1.2"/>
<polygon points="701.50,161.70 708.43,165.70 708.43,173.70 701.50,177.70 694.57,173.70 694.57,165.70" fill="#fff" stroke="#3a3a3a" stroke-width="1.2"/>
<rect x="258.90" y="53.60" width="12.8" height="12.8" fill="#fff" stroke="#3a3a3a" stroke-width="1.2"/>
<rect x="571.40" y="96.10" width="12.8" height="12.8" fill="#fff" stroke="#3a3a3a" stroke-width="1.2"/>
<rect x="714.60" y="174.00" width="12.8" height="12.8" fill="#fff" stroke="#3a3a3a" stroke-width="1.2"/>
<polygon points="219.30,560.50 210.50,575.10 228.10,575.10" fill="#fff" stroke="#3a3a3a" stroke-width="1.2" stroke-linejoin="miter"/>
<polygon points="291.00,560.50 282.20,575.10 299.80,575.10" fill="#fff" stroke="#3a3a3a" stroke-width="1.2" stroke-linejoin="miter"/>
<polygon points="336.60,463.80 327.80,478.40 345.40,478.40" fill="#fff" stroke="#3a3a3a" stroke-width="1.2" stroke-linejoin="miter"/>
<polygon points="362.40,533.50 353.60,548.10 371.20,548.10" fill="#fff" stroke="#3a3a3a" stroke-width="1.2" stroke-linejoin="miter"/>
<polygon points="370.60,555.00 361.80,569.60 379.40,569.60" fill="#fff" stroke="#3a3a3a" stroke-width="1.2" stroke-linejoin="miter"/>
<polygon points="514.20,594.50 505.40,609.10 523.00,609.10" fill="#fff" stroke="#3a3a3a" stroke-width="1.2" stroke-linejoin="miter"/>
<polygon points="519.20,599.70 510.40,614.30 528.00,614.30" fill="#fff" stroke="#3a3a3a" stroke-width="1.2" stroke-linejoin="miter"/>
<polygon points="539.50,599.70 530.70,614.30 548.30,614.30" fill="#fff" stroke="#3a3a3a" stroke-width="1.2" stroke-linejoin="miter"/>
<polygon points="597.30,599.70 588.50,614.30 606.10,614.30" fill="#fff" stroke="#3a3a3a" stroke-width="1.2" stroke-linejoin="miter"/>
<polygon points="621.00,599.70 612.20,614.30 629.80,614.30" fill="#fff" stroke="#3a3a3a" stroke-width="1.2" stroke-linejoin="miter"/>
<polygon points="670.20,599.70 661.40,614.30 679.00,614.30" fill="#fff" stroke="#3a3a3a" stroke-width="1.2" stroke-linejoin="miter"/>
<polygon points="687.20,599.70 678.40,614.30 696.00,614.30" fill="#fff" stroke="#3a3a3a" stroke-width="1.2" stroke-linejoin="miter"/>
<polygon points="774.00,599.50 765.20,614.10 782.80,614.10" fill="#fff" stroke="#3a3a3a" stroke-width="1.2" stroke-linejoin="miter"/>
<rect x="810.60" y="22.60" width="12.8" height="12.8" fill="#fff" stroke="#3a3a3a" stroke-width="1.2"/>
<polygon points="817.00,64.00 823.93,68.00 823.93,76.00 817.00,80.00 810.07,76.00 810.07,68.00" fill="#fff" stroke="#3a3a3a" stroke-width="1.2"/>
<polygon points="817.00,106.20 808.00,120.40 826.00,120.40" fill="#fff" stroke="#3a3a3a" stroke-width="1.2" stroke-linejoin="miter"/>
<g transform="translate(190.23,767.00) scale(1,1.04)"><text x="0" y="0" font-size="29" text-anchor="middle" font-family="Liberation Sans, sans-serif" fill="#1c1c1c">20</text></g>
<g transform="translate(391.30,767.00) scale(1,1.04)"><text x="0" y="0" font-size="29" text-anchor="middle" font-family="Liberation Sans, sans-serif" fill="#1c1c1c">30</text></g>
<g transform="translate(592.37,767.00) scale(1,1.04)"><text x="0" y="0" font-size="29" text-anchor="middle" font-family="Liberation Sans, sans-serif" fill="#1c1c1c">40</text></g>
<g transform="translate(793.43,767.00) scale(1,1.04)"><text x="0" y="0" font-size="29" text-anchor="middle" font-family="Liberation Sans, sans-serif" fill="#1c1c1c">50</text></g>
<g transform="translate(994.50,767.00) scale(1,1.04)"><text x="0" y="0" font-size="29" text-anchor="middle" font-family="Liberation Sans, sans-serif" fill="#1c1c1c">60</text></g>
<g transform="translate(542.30,825.00) scale(1,1.04)"><text x="0" y="0" font-size="35.4" text-anchor="middle" font-family="Liberation Sans, sans-serif" fill="#1c1c1c">2<tspan font-family="Liberation Serif, serif">θ</tspan> (degrees)</text></g>
<g transform="translate(27.90,536.30) rotate(-90) scale(1,1.04)"><text x="0" y="0" font-size="35.3" font-family="Liberation Sans, sans-serif" fill="#1c1c1c">X-ray intensity ( arb. u.)</text></g>
<g transform="translate(99.60,234.50) scale(1,1.04)"><text x="0" y="0" font-size="34.3" font-family="Liberation Sans, sans-serif" fill="#1c1c1c">x=0.1</text></g>
<g transform="translate(103.60,434.00) scale(1,1.04)"><text x="0" y="0" font-size="34.3" font-family="Liberation Sans, sans-serif" fill="#1c1c1c">x=0.5</text></g>
<g transform="translate(105.30,614.20) scale(1,1.04)"><text x="0" y="0" font-size="34.3" font-family="Liberation Sans, sans-serif" fill="#1c1c1c">x=1</text></g>
<g transform="translate(865.50,41.80) scale(1,1.04)"><text x="0" y="0" font-size="25.6" font-family="Liberation Sans, sans-serif" fill="#1c1c1c">C-CdTe</text></g>
<g transform="translate(863.70,84.40) scale(1,1.04)"><text x="0" y="0" font-size="25.6" font-family="Liberation Sans, sans-serif" fill="#1c1c1c">H-CdTe</text></g>
<g transform="translate(863.20,126.60) scale(1,1.04)"><text x="0" y="0" font-size="25.8" font-family="Liberation Sans, sans-serif" fill="#1c1c1c">C-In<tspan x="47.2" y="13.7">2</tspan><tspan x="61.6" y="0">Te</tspan><tspan x="90.2" y="13.7">3</tspan></text></g>
<g transform="translate(315.10,37.60) scale(1,1.04)"><text x="0" y="0" font-size="26" font-family="Liberation Sans, sans-serif" fill="#1c1c1c">(CdTe)<tspan x="81.3" y="12.9">1-x</tspan><tspan x="115.4" y="0">(In</tspan><tspan x="144.7" y="12.9">2</tspan><tspan x="159.5" y="0">Te</tspan><tspan x="189.4" y="12.9">3</tspan><tspan x="205.1" y="0">)</tspan><tspan x="212.4" y="12.9">x</tspan></text></g>
</svg>
</body></html>
